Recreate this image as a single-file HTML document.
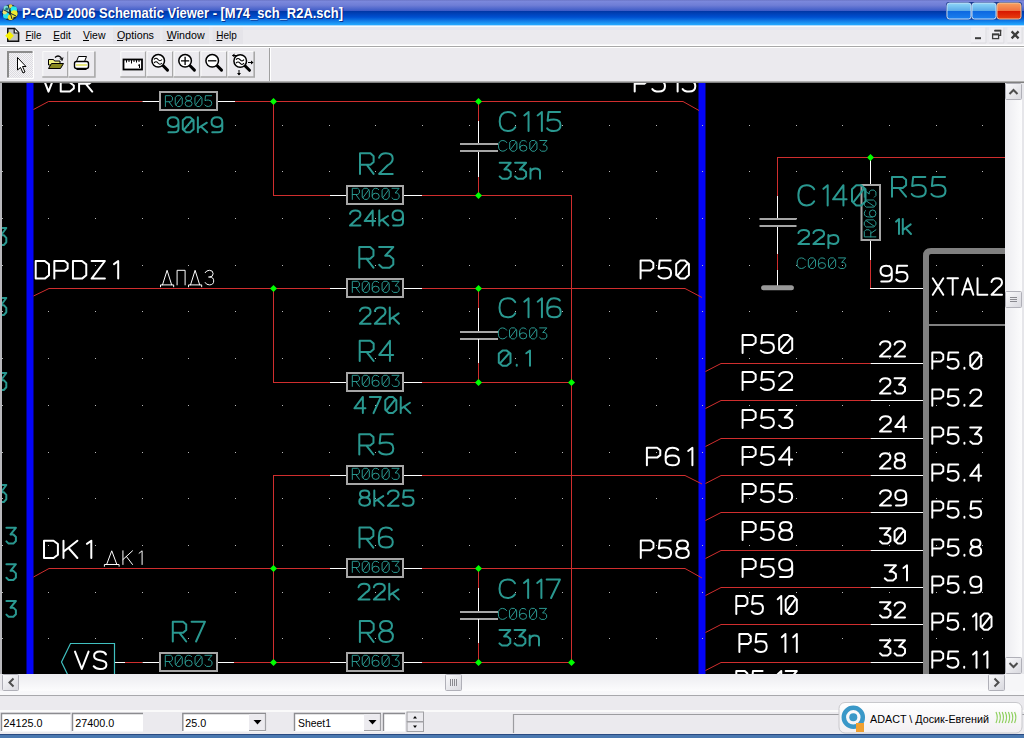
<!DOCTYPE html>
<html><head><meta charset="utf-8"><title>P-CAD 2006 Schematic Viewer</title>
<style>
html,body{margin:0;padding:0;width:1024px;height:738px;overflow:hidden;background:#ebeaee;}
body{position:relative;font-family:"Liberation Sans",sans-serif;}
.abs{position:absolute;}
svg{position:absolute;left:0;top:0;}
</style></head><body>
<svg width="1024" height="738" viewBox="0 0 1024 738"><defs>
<linearGradient id="tb" x1="0" y1="0" x2="0" y2="1">
 <stop offset="0" stop-color="#6a74c4"/>
 <stop offset="0.05" stop-color="#7b88dc"/>
 <stop offset="0.2" stop-color="#6f7ed6"/>
 <stop offset="0.42" stop-color="#3c5ac6"/>
 <stop offset="0.44" stop-color="#0038a8"/>
 <stop offset="0.66" stop-color="#0050d0"/>
 <stop offset="0.96" stop-color="#22a8ff"/>
 <stop offset="1" stop-color="#40b8ff"/>
</linearGradient>
<linearGradient id="bb" x1="0" y1="0" x2="0" y2="1">
 <stop offset="0" stop-color="#90d8f8"/>
 <stop offset="0.5" stop-color="#58a8e8"/>
 <stop offset="0.52" stop-color="#0e68e0"/>
 <stop offset="1" stop-color="#1a80f0"/>
</linearGradient>
<linearGradient id="rb" x1="0" y1="0" x2="0" y2="1">
 <stop offset="0" stop-color="#f8a060"/>
 <stop offset="0.5" stop-color="#f07040"/>
 <stop offset="0.52" stop-color="#d81800"/>
 <stop offset="1" stop-color="#e84010"/>
</linearGradient>
<linearGradient id="pill" x1="0" y1="0" x2="0" y2="1">
 <stop offset="0" stop-color="#ffffff"/>
 <stop offset="1" stop-color="#f2eff2"/>
</linearGradient>
<pattern id="dith" width="2" height="2" patternUnits="userSpaceOnUse">
 <rect width="2" height="2" fill="#f4f3f6"/><rect width="1" height="1" fill="#dcdbe0"/><rect x="1" y="1" width="1" height="1" fill="#dcdbe0"/>
</pattern>
<linearGradient id="trk" x1="0" y1="0" x2="0" y2="1"><stop offset="0" stop-color="#ececf0"/><stop offset="1" stop-color="#fcfcfd"/></linearGradient>
<linearGradient id="trkv" x1="0" y1="0" x2="1" y2="0"><stop offset="0" stop-color="#ececf0"/><stop offset="1" stop-color="#fcfcfd"/></linearGradient>
<linearGradient id="sbg" x1="0" y1="0" x2="1" y2="1"><stop offset="0" stop-color="#fafafc"/><stop offset="1" stop-color="#d8d8de"/></linearGradient>
<clipPath id="cv"><rect x="2" y="83" width="1003" height="591"/></clipPath>
</defs>
<rect x="0" y="0" width="1024" height="26" fill="url(#tb)"/>
<rect x="0" y="25" width="1024" height="1" fill="#a8d8ff"/>
<g>
<circle cx="10" cy="12.5" r="8" fill="#1a2a38"/>
<circle cx="6.8" cy="9" r="3.4" fill="#7ad8d8"/>
<circle cx="6.8" cy="9" r="1.6" fill="#207878"/>
<circle cx="10.5" cy="6.2" r="2" fill="#e8d040"/>
<circle cx="13.8" cy="9.4" r="3.2" fill="#28e8f0"/>
<circle cx="14.2" cy="13.6" r="3.4" fill="#f0ea30"/>
<circle cx="6.2" cy="15.6" r="3.2" fill="#28e0f0"/>
<circle cx="10.6" cy="17.2" r="2.8" fill="#f0e030"/>
<circle cx="4.8" cy="12.2" r="2.2" fill="#e8e070"/>
<path d="M4,10 L16,16 M8,5 L12,19" stroke="#1a2a38" stroke-width="1"/>
</g>
<text x="23" y="18.8" font-family="Liberation Sans" font-weight="bold" font-size="14.6" fill="#0a1870" fill-opacity="0.75" textLength="321" lengthAdjust="spacingAndGlyphs">P-CAD 2006 Schematic Viewer - [M74_sch_R2A.sch]</text>
<text x="22" y="17.8" font-family="Liberation Sans" font-weight="bold" font-size="14.6" fill="#ffffff" textLength="321" lengthAdjust="spacingAndGlyphs">P-CAD 2006 Schematic Viewer - [M74_sch_R2A.sch]</text>
<rect x="946" y="2" width="76" height="17.5" rx="3" fill="#1c3c90"/>
<rect x="947" y="3" width="24" height="16" rx="2.5" fill="url(#bb)" stroke="#c8e0f8" stroke-width="1"/>
<rect x="972" y="3" width="24" height="16" rx="2.5" fill="url(#bb)" stroke="#c8e0f8" stroke-width="1"/>
<rect x="997" y="3" width="24" height="16" rx="2.5" fill="url(#rb)" stroke="#f0c8a0" stroke-width="1"/>
<rect x="0" y="26" width="1024" height="20" fill="#ebeaee"/>
<rect x="0" y="26" width="1024" height="1" fill="#f4f8fc"/>
<rect x="0" y="27" width="1024" height="3" fill="#e4e6f0"/>
<rect x="0" y="44" width="1024" height="1" fill="#f6f6f8"/>
<rect x="0" y="45" width="1024" height="1" fill="#ffffff"/>
<rect x="0" y="46" width="1024" height="1" fill="#a8a8a8"/>
<rect x="0" y="47" width="1024" height="1" fill="#ffffff"/>
<g>
<path d="M7.8,28.6 H14.6 L18.6,32.6 V41.2 H7.8 Z" fill="#c4c4c4" stroke="#101010" stroke-width="1.5"/>
<path d="M14.2,28.6 V33 H18.6" fill="#f0f0f0" stroke="#101010" stroke-width="1.2"/>
<path d="M5.2,35.8 L9.5,31.4 L13.8,35.8 L9.5,40.2 Z" fill="#f8f000"/>
</g>
<rect x="113.0" y="27" width="47.0" height="17" fill="#e5e4e9"/>
<rect x="162.5" y="27" width="46.5" height="17" fill="#e5e4e9"/>
<rect x="212.5" y="27" width="30.5" height="17" fill="#e5e4e9"/>
<text x="25.6" y="39" font-family="Liberation Sans" font-size="11" fill="#000" textLength="15.9" lengthAdjust="spacingAndGlyphs">File</text>
<rect x="25.6" y="40" width="6" height="1" fill="#000"/>
<text x="53.2" y="39" font-family="Liberation Sans" font-size="11" fill="#000" textLength="17.6" lengthAdjust="spacingAndGlyphs">Edit</text>
<rect x="53.2" y="40" width="6" height="1" fill="#000"/>
<text x="83.0" y="39" font-family="Liberation Sans" font-size="11" fill="#000" textLength="22.5" lengthAdjust="spacingAndGlyphs">View</text>
<rect x="83.0" y="40" width="6" height="1" fill="#000"/>
<text x="117.0" y="39" font-family="Liberation Sans" font-size="11" fill="#000" textLength="37.0" lengthAdjust="spacingAndGlyphs">Options</text>
<rect x="117.0" y="40" width="6" height="1" fill="#000"/>
<text x="166.7" y="39" font-family="Liberation Sans" font-size="11" fill="#000" textLength="37.9" lengthAdjust="spacingAndGlyphs">Window</text>
<rect x="166.7" y="40" width="6" height="1" fill="#000"/>
<text x="216.3" y="39" font-family="Liberation Sans" font-size="11" fill="#000" textLength="20.5" lengthAdjust="spacingAndGlyphs">Help</text>
<rect x="216.3" y="40" width="6" height="1" fill="#000"/>
<rect x="971.0" y="27.5" width="15.5" height="15.8" fill="#efeef2"/>
<path d="M971.0,43 H986.0 V27.5" fill="none" stroke="#dcdce0" stroke-width="1"/>
<rect x="989.2" y="27.5" width="15.2" height="15.8" fill="#efeef2"/>
<path d="M989.2,43 H1003.9 V27.5" fill="none" stroke="#dcdce0" stroke-width="1"/>
<rect x="1007.4" y="27.5" width="15.2" height="15.8" fill="#efeef2"/>
<path d="M1007.4,43 H1022.1 V27.5" fill="none" stroke="#dcdce0" stroke-width="1"/>
<rect x="975" y="37.2" width="6" height="2" fill="#3c3c3c"/>
<rect x="992.6" y="34.2" width="6" height="4.4" fill="none" stroke="#3c3c3c" stroke-width="1.3"/>
<rect x="992" y="33.6" width="7.2" height="1.8" fill="#3c3c3c"/>
<path d="M994.8,30.5 H1000.6 V35.4 H999" fill="none" stroke="#3c3c3c" stroke-width="1.3"/>
<rect x="994.2" y="29.9" width="7" height="1.6" fill="#3c3c3c"/>
<path d="M1011.6,31.4 L1018.6,38.4 M1018.6,31.4 L1011.6,38.4" stroke="#3c3c3c" stroke-width="2.3"/>
<rect x="0" y="48" width="1024" height="34" fill="#ebeaee"/>
<rect x="0" y="81" width="1024" height="1" fill="#b0b0b0"/>
<rect x="0" y="82" width="1024" height="1" fill="#808080"/>
<rect x="7" y="51" width="26.5" height="26.5" fill="url(#dith)"/>
<path d="M8,77.5 V52 H32.5" fill="none" stroke="#8c8c8c" stroke-width="2"/>
<path d="M7,78.5 H33.5 V51" fill="none" stroke="#ffffff" stroke-width="1"/>
<path d="M17.5,57.5 V70 L20.5,67.5 L23,73 L25,72 L22.5,66.5 L26,66.5 Z" fill="#fff" stroke="#000" stroke-width="1"/>
<rect x="42.3" y="51.5" width="26.3" height="26" fill="#ecebef"/>
<path d="M42.8,77.5 V51.5 H68.1" fill="none" stroke="#fafafa" stroke-width="1"/>
<path d="M67.8,51.5 V77 H42.3" fill="none" stroke="#a8a8a8" stroke-width="1.6"/>
<rect x="68.6" y="51.5" width="27.1" height="26" fill="#ecebef"/>
<path d="M69.1,77.5 V51.5 H95.2" fill="none" stroke="#fafafa" stroke-width="1"/>
<path d="M94.9,51.5 V77 H68.6" fill="none" stroke="#a8a8a8" stroke-width="1.6"/>
<rect x="120.3" y="51.5" width="26.2" height="26" fill="#ecebef"/>
<path d="M120.8,77.5 V51.5 H146.0" fill="none" stroke="#fafafa" stroke-width="1"/>
<path d="M145.7,51.5 V77 H120.3" fill="none" stroke="#a8a8a8" stroke-width="1.6"/>
<rect x="146.5" y="51.5" width="27.1" height="26" fill="#ecebef"/>
<path d="M147.0,77.5 V51.5 H173.1" fill="none" stroke="#fafafa" stroke-width="1"/>
<path d="M172.8,51.5 V77 H146.5" fill="none" stroke="#a8a8a8" stroke-width="1.6"/>
<rect x="173.6" y="51.5" width="26.9" height="26" fill="#ecebef"/>
<path d="M174.1,77.5 V51.5 H200.0" fill="none" stroke="#fafafa" stroke-width="1"/>
<path d="M199.7,51.5 V77 H173.6" fill="none" stroke="#a8a8a8" stroke-width="1.6"/>
<rect x="200.5" y="51.5" width="27.1" height="26" fill="#ecebef"/>
<path d="M201.0,77.5 V51.5 H227.1" fill="none" stroke="#fafafa" stroke-width="1"/>
<path d="M226.8,51.5 V77 H200.5" fill="none" stroke="#a8a8a8" stroke-width="1.6"/>
<rect x="227.6" y="51.5" width="27.4" height="26" fill="#ecebef"/>
<path d="M228.1,77.5 V51.5 H254.5" fill="none" stroke="#fafafa" stroke-width="1"/>
<path d="M254.2,51.5 V77 H227.6" fill="none" stroke="#a8a8a8" stroke-width="1.6"/>
<path d="M48.5,59.5 h5 l1,1.5 h5.5 v4 h-11.5 z" fill="#f0f080" stroke="#000" stroke-width="1"/>
<path d="M48.5,68.5 L51.5,63.5 H63.5 L60.5,68.5 Z" fill="#8a8a20" stroke="#000" stroke-width="1"/>
<path d="M55,57.5 q3,-3 6,0 l0.5,2" fill="none" stroke="#000" stroke-width="1.2"/>
<path d="M60,58.5 l2,2 l1,-3" fill="none" stroke="#000" stroke-width="1"/>
<path d="M78.5,56.5 h8 l-2,5 h-8 z" fill="#fff" stroke="#000" stroke-width="1"/>
<rect x="74.5" y="61.5" width="14" height="7" rx="2" fill="#fff" stroke="#000" stroke-width="1.4"/>
<rect x="76" y="64" width="11" height="2" fill="#e8e880"/>
<rect x="76.5" y="68.5" width="10" height="1.5" fill="#000"/>
<rect x="123.5" y="59.5" width="18.5" height="10" fill="#fff" stroke="#000" stroke-width="1.8"/>
<path d="M126.5,60 v2.5 M129,60 v2 M131.5,60 v3.5 M134,60 v2 M136.5,60 v2.5 M139,60 v2" stroke="#000" stroke-width="1"/>
<path d="M139.5,68 v-3.5 l-1.5,1" fill="none" stroke="#000" stroke-width="1"/>
<path d="M162.7,65.3 l4.8,4.8" stroke="#000" stroke-width="3" stroke-linecap="round"/>
<circle cx="158.2" cy="60.8" r="6.3" fill="#fff" stroke="#000" stroke-width="1.5"/>
<path d="M154,59.5 q2,-2.5 4,0 t4,0 M154,63 q2,-2.5 4,0 t4,0" fill="none" stroke="#000" stroke-width="1.1"/>
<path d="M189.6,65.3 l4.8,4.8" stroke="#000" stroke-width="3" stroke-linecap="round"/>
<circle cx="185.1" cy="60.8" r="6.3" fill="#fff" stroke="#000" stroke-width="1.5"/>
<path d="M181,60.8 h8.2 M185.1,56.7 v8.2" stroke="#000" stroke-width="1.3"/>
<path d="M216.7,65.3 l4.8,4.8" stroke="#000" stroke-width="3" stroke-linecap="round"/>
<circle cx="212.2" cy="60.8" r="6.3" fill="#fff" stroke="#000" stroke-width="1.5"/>
<path d="M208,60.8 h8.4" stroke="#000" stroke-width="1.3"/>
<path d="M244.7,65.5 l4.8,4.8" stroke="#000" stroke-width="3" stroke-linecap="round"/>
<circle cx="240.2" cy="61.0" r="6.3" fill="#fff" stroke="#000" stroke-width="1.5"/>
<path d="M236,59.7 q2,-2.5 4,0 t4,0 M236,63.2 q2,-2.5 4,0 t4,0" fill="none" stroke="#000" stroke-width="1.1"/><path d="M232.5,55.5 h5 M248,62.5 h5 M239,70 v5" stroke="#000" stroke-width="1"/><path d="M232,55.5 l2.5,-2 v4 z M253.5,62.5 l-2.5,-2 v4 z M239,75.5 l-2,-2.5 h4 z" fill="#000"/>
<rect x="269" y="48" width="1" height="33" fill="#a0a0a0"/>
<rect x="270" y="48" width="1" height="33" fill="#ffffff"/>
<rect x="0" y="83" width="2" height="591" fill="#b8b8bc"/>
<rect x="1005" y="83" width="19" height="591" fill="#f3f3f5"/>
<rect x="2" y="83" width="1003" height="591" fill="#000"/>
<g clip-path="url(#cv)"><rect x="26.5" y="83" width="7" height="591" fill="#0404f6"/>
<rect x="698.5" y="83" width="7" height="591" fill="#0404f6"/>
<rect x="2" y="125" width="1" height="1" fill="#b8b8b8"/>
<rect x="2" y="171" width="1" height="1" fill="#b8b8b8"/>
<rect x="2" y="218" width="1" height="1" fill="#b8b8b8"/>
<rect x="2" y="265" width="1" height="1" fill="#b8b8b8"/>
<rect x="2" y="311" width="1" height="1" fill="#b8b8b8"/>
<rect x="2" y="358" width="1" height="1" fill="#b8b8b8"/>
<rect x="2" y="405" width="1" height="1" fill="#b8b8b8"/>
<rect x="2" y="452" width="1" height="1" fill="#b8b8b8"/>
<rect x="2" y="498" width="1" height="1" fill="#b8b8b8"/>
<rect x="2" y="545" width="1" height="1" fill="#b8b8b8"/>
<rect x="2" y="592" width="1" height="1" fill="#b8b8b8"/>
<rect x="2" y="638" width="1" height="1" fill="#b8b8b8"/>
<rect x="48" y="125" width="1" height="1" fill="#b8b8b8"/>
<rect x="48" y="171" width="1" height="1" fill="#b8b8b8"/>
<rect x="48" y="218" width="1" height="1" fill="#b8b8b8"/>
<rect x="48" y="265" width="1" height="1" fill="#b8b8b8"/>
<rect x="48" y="311" width="1" height="1" fill="#b8b8b8"/>
<rect x="48" y="358" width="1" height="1" fill="#b8b8b8"/>
<rect x="48" y="405" width="1" height="1" fill="#b8b8b8"/>
<rect x="48" y="452" width="1" height="1" fill="#b8b8b8"/>
<rect x="48" y="498" width="1" height="1" fill="#b8b8b8"/>
<rect x="48" y="545" width="1" height="1" fill="#b8b8b8"/>
<rect x="48" y="592" width="1" height="1" fill="#b8b8b8"/>
<rect x="48" y="638" width="1" height="1" fill="#b8b8b8"/>
<rect x="95" y="125" width="1" height="1" fill="#b8b8b8"/>
<rect x="95" y="171" width="1" height="1" fill="#b8b8b8"/>
<rect x="95" y="218" width="1" height="1" fill="#b8b8b8"/>
<rect x="95" y="265" width="1" height="1" fill="#b8b8b8"/>
<rect x="95" y="311" width="1" height="1" fill="#b8b8b8"/>
<rect x="95" y="358" width="1" height="1" fill="#b8b8b8"/>
<rect x="95" y="405" width="1" height="1" fill="#b8b8b8"/>
<rect x="95" y="452" width="1" height="1" fill="#b8b8b8"/>
<rect x="95" y="498" width="1" height="1" fill="#b8b8b8"/>
<rect x="95" y="545" width="1" height="1" fill="#b8b8b8"/>
<rect x="95" y="592" width="1" height="1" fill="#b8b8b8"/>
<rect x="95" y="638" width="1" height="1" fill="#b8b8b8"/>
<rect x="142" y="125" width="1" height="1" fill="#b8b8b8"/>
<rect x="142" y="171" width="1" height="1" fill="#b8b8b8"/>
<rect x="142" y="218" width="1" height="1" fill="#b8b8b8"/>
<rect x="142" y="265" width="1" height="1" fill="#b8b8b8"/>
<rect x="142" y="311" width="1" height="1" fill="#b8b8b8"/>
<rect x="142" y="358" width="1" height="1" fill="#b8b8b8"/>
<rect x="142" y="405" width="1" height="1" fill="#b8b8b8"/>
<rect x="142" y="452" width="1" height="1" fill="#b8b8b8"/>
<rect x="142" y="498" width="1" height="1" fill="#b8b8b8"/>
<rect x="142" y="545" width="1" height="1" fill="#b8b8b8"/>
<rect x="142" y="592" width="1" height="1" fill="#b8b8b8"/>
<rect x="142" y="638" width="1" height="1" fill="#b8b8b8"/>
<rect x="188" y="125" width="1" height="1" fill="#b8b8b8"/>
<rect x="188" y="171" width="1" height="1" fill="#b8b8b8"/>
<rect x="188" y="218" width="1" height="1" fill="#b8b8b8"/>
<rect x="188" y="265" width="1" height="1" fill="#b8b8b8"/>
<rect x="188" y="311" width="1" height="1" fill="#b8b8b8"/>
<rect x="188" y="358" width="1" height="1" fill="#b8b8b8"/>
<rect x="188" y="405" width="1" height="1" fill="#b8b8b8"/>
<rect x="188" y="452" width="1" height="1" fill="#b8b8b8"/>
<rect x="188" y="498" width="1" height="1" fill="#b8b8b8"/>
<rect x="188" y="545" width="1" height="1" fill="#b8b8b8"/>
<rect x="188" y="592" width="1" height="1" fill="#b8b8b8"/>
<rect x="188" y="638" width="1" height="1" fill="#b8b8b8"/>
<rect x="235" y="125" width="1" height="1" fill="#b8b8b8"/>
<rect x="235" y="171" width="1" height="1" fill="#b8b8b8"/>
<rect x="235" y="218" width="1" height="1" fill="#b8b8b8"/>
<rect x="235" y="265" width="1" height="1" fill="#b8b8b8"/>
<rect x="235" y="311" width="1" height="1" fill="#b8b8b8"/>
<rect x="235" y="358" width="1" height="1" fill="#b8b8b8"/>
<rect x="235" y="405" width="1" height="1" fill="#b8b8b8"/>
<rect x="235" y="452" width="1" height="1" fill="#b8b8b8"/>
<rect x="235" y="498" width="1" height="1" fill="#b8b8b8"/>
<rect x="235" y="545" width="1" height="1" fill="#b8b8b8"/>
<rect x="235" y="592" width="1" height="1" fill="#b8b8b8"/>
<rect x="235" y="638" width="1" height="1" fill="#b8b8b8"/>
<rect x="282" y="125" width="1" height="1" fill="#b8b8b8"/>
<rect x="282" y="171" width="1" height="1" fill="#b8b8b8"/>
<rect x="282" y="218" width="1" height="1" fill="#b8b8b8"/>
<rect x="282" y="265" width="1" height="1" fill="#b8b8b8"/>
<rect x="282" y="311" width="1" height="1" fill="#b8b8b8"/>
<rect x="282" y="358" width="1" height="1" fill="#b8b8b8"/>
<rect x="282" y="405" width="1" height="1" fill="#b8b8b8"/>
<rect x="282" y="452" width="1" height="1" fill="#b8b8b8"/>
<rect x="282" y="498" width="1" height="1" fill="#b8b8b8"/>
<rect x="282" y="545" width="1" height="1" fill="#b8b8b8"/>
<rect x="282" y="592" width="1" height="1" fill="#b8b8b8"/>
<rect x="282" y="638" width="1" height="1" fill="#b8b8b8"/>
<rect x="329" y="125" width="1" height="1" fill="#b8b8b8"/>
<rect x="329" y="171" width="1" height="1" fill="#b8b8b8"/>
<rect x="329" y="218" width="1" height="1" fill="#b8b8b8"/>
<rect x="329" y="265" width="1" height="1" fill="#b8b8b8"/>
<rect x="329" y="311" width="1" height="1" fill="#b8b8b8"/>
<rect x="329" y="358" width="1" height="1" fill="#b8b8b8"/>
<rect x="329" y="405" width="1" height="1" fill="#b8b8b8"/>
<rect x="329" y="452" width="1" height="1" fill="#b8b8b8"/>
<rect x="329" y="498" width="1" height="1" fill="#b8b8b8"/>
<rect x="329" y="545" width="1" height="1" fill="#b8b8b8"/>
<rect x="329" y="592" width="1" height="1" fill="#b8b8b8"/>
<rect x="329" y="638" width="1" height="1" fill="#b8b8b8"/>
<rect x="375" y="125" width="1" height="1" fill="#b8b8b8"/>
<rect x="375" y="171" width="1" height="1" fill="#b8b8b8"/>
<rect x="375" y="218" width="1" height="1" fill="#b8b8b8"/>
<rect x="375" y="265" width="1" height="1" fill="#b8b8b8"/>
<rect x="375" y="311" width="1" height="1" fill="#b8b8b8"/>
<rect x="375" y="358" width="1" height="1" fill="#b8b8b8"/>
<rect x="375" y="405" width="1" height="1" fill="#b8b8b8"/>
<rect x="375" y="452" width="1" height="1" fill="#b8b8b8"/>
<rect x="375" y="498" width="1" height="1" fill="#b8b8b8"/>
<rect x="375" y="545" width="1" height="1" fill="#b8b8b8"/>
<rect x="375" y="592" width="1" height="1" fill="#b8b8b8"/>
<rect x="375" y="638" width="1" height="1" fill="#b8b8b8"/>
<rect x="422" y="125" width="1" height="1" fill="#b8b8b8"/>
<rect x="422" y="171" width="1" height="1" fill="#b8b8b8"/>
<rect x="422" y="218" width="1" height="1" fill="#b8b8b8"/>
<rect x="422" y="265" width="1" height="1" fill="#b8b8b8"/>
<rect x="422" y="311" width="1" height="1" fill="#b8b8b8"/>
<rect x="422" y="358" width="1" height="1" fill="#b8b8b8"/>
<rect x="422" y="405" width="1" height="1" fill="#b8b8b8"/>
<rect x="422" y="452" width="1" height="1" fill="#b8b8b8"/>
<rect x="422" y="498" width="1" height="1" fill="#b8b8b8"/>
<rect x="422" y="545" width="1" height="1" fill="#b8b8b8"/>
<rect x="422" y="592" width="1" height="1" fill="#b8b8b8"/>
<rect x="422" y="638" width="1" height="1" fill="#b8b8b8"/>
<rect x="469" y="125" width="1" height="1" fill="#b8b8b8"/>
<rect x="469" y="171" width="1" height="1" fill="#b8b8b8"/>
<rect x="469" y="218" width="1" height="1" fill="#b8b8b8"/>
<rect x="469" y="265" width="1" height="1" fill="#b8b8b8"/>
<rect x="469" y="311" width="1" height="1" fill="#b8b8b8"/>
<rect x="469" y="358" width="1" height="1" fill="#b8b8b8"/>
<rect x="469" y="405" width="1" height="1" fill="#b8b8b8"/>
<rect x="469" y="452" width="1" height="1" fill="#b8b8b8"/>
<rect x="469" y="498" width="1" height="1" fill="#b8b8b8"/>
<rect x="469" y="545" width="1" height="1" fill="#b8b8b8"/>
<rect x="469" y="592" width="1" height="1" fill="#b8b8b8"/>
<rect x="469" y="638" width="1" height="1" fill="#b8b8b8"/>
<rect x="515" y="125" width="1" height="1" fill="#b8b8b8"/>
<rect x="515" y="171" width="1" height="1" fill="#b8b8b8"/>
<rect x="515" y="218" width="1" height="1" fill="#b8b8b8"/>
<rect x="515" y="265" width="1" height="1" fill="#b8b8b8"/>
<rect x="515" y="311" width="1" height="1" fill="#b8b8b8"/>
<rect x="515" y="358" width="1" height="1" fill="#b8b8b8"/>
<rect x="515" y="405" width="1" height="1" fill="#b8b8b8"/>
<rect x="515" y="452" width="1" height="1" fill="#b8b8b8"/>
<rect x="515" y="498" width="1" height="1" fill="#b8b8b8"/>
<rect x="515" y="545" width="1" height="1" fill="#b8b8b8"/>
<rect x="515" y="592" width="1" height="1" fill="#b8b8b8"/>
<rect x="515" y="638" width="1" height="1" fill="#b8b8b8"/>
<rect x="562" y="125" width="1" height="1" fill="#b8b8b8"/>
<rect x="562" y="171" width="1" height="1" fill="#b8b8b8"/>
<rect x="562" y="218" width="1" height="1" fill="#b8b8b8"/>
<rect x="562" y="265" width="1" height="1" fill="#b8b8b8"/>
<rect x="562" y="311" width="1" height="1" fill="#b8b8b8"/>
<rect x="562" y="358" width="1" height="1" fill="#b8b8b8"/>
<rect x="562" y="405" width="1" height="1" fill="#b8b8b8"/>
<rect x="562" y="452" width="1" height="1" fill="#b8b8b8"/>
<rect x="562" y="498" width="1" height="1" fill="#b8b8b8"/>
<rect x="562" y="545" width="1" height="1" fill="#b8b8b8"/>
<rect x="562" y="592" width="1" height="1" fill="#b8b8b8"/>
<rect x="562" y="638" width="1" height="1" fill="#b8b8b8"/>
<rect x="609" y="125" width="1" height="1" fill="#b8b8b8"/>
<rect x="609" y="171" width="1" height="1" fill="#b8b8b8"/>
<rect x="609" y="218" width="1" height="1" fill="#b8b8b8"/>
<rect x="609" y="265" width="1" height="1" fill="#b8b8b8"/>
<rect x="609" y="311" width="1" height="1" fill="#b8b8b8"/>
<rect x="609" y="358" width="1" height="1" fill="#b8b8b8"/>
<rect x="609" y="405" width="1" height="1" fill="#b8b8b8"/>
<rect x="609" y="452" width="1" height="1" fill="#b8b8b8"/>
<rect x="609" y="498" width="1" height="1" fill="#b8b8b8"/>
<rect x="609" y="545" width="1" height="1" fill="#b8b8b8"/>
<rect x="609" y="592" width="1" height="1" fill="#b8b8b8"/>
<rect x="609" y="638" width="1" height="1" fill="#b8b8b8"/>
<rect x="656" y="125" width="1" height="1" fill="#b8b8b8"/>
<rect x="656" y="171" width="1" height="1" fill="#b8b8b8"/>
<rect x="656" y="218" width="1" height="1" fill="#b8b8b8"/>
<rect x="656" y="265" width="1" height="1" fill="#b8b8b8"/>
<rect x="656" y="311" width="1" height="1" fill="#b8b8b8"/>
<rect x="656" y="358" width="1" height="1" fill="#b8b8b8"/>
<rect x="656" y="405" width="1" height="1" fill="#b8b8b8"/>
<rect x="656" y="452" width="1" height="1" fill="#b8b8b8"/>
<rect x="656" y="498" width="1" height="1" fill="#b8b8b8"/>
<rect x="656" y="545" width="1" height="1" fill="#b8b8b8"/>
<rect x="656" y="592" width="1" height="1" fill="#b8b8b8"/>
<rect x="656" y="638" width="1" height="1" fill="#b8b8b8"/>
<rect x="702" y="125" width="1" height="1" fill="#b8b8b8"/>
<rect x="702" y="171" width="1" height="1" fill="#b8b8b8"/>
<rect x="702" y="218" width="1" height="1" fill="#b8b8b8"/>
<rect x="702" y="265" width="1" height="1" fill="#b8b8b8"/>
<rect x="702" y="311" width="1" height="1" fill="#b8b8b8"/>
<rect x="702" y="358" width="1" height="1" fill="#b8b8b8"/>
<rect x="702" y="405" width="1" height="1" fill="#b8b8b8"/>
<rect x="702" y="452" width="1" height="1" fill="#b8b8b8"/>
<rect x="702" y="498" width="1" height="1" fill="#b8b8b8"/>
<rect x="702" y="545" width="1" height="1" fill="#b8b8b8"/>
<rect x="702" y="592" width="1" height="1" fill="#b8b8b8"/>
<rect x="702" y="638" width="1" height="1" fill="#b8b8b8"/>
<rect x="749" y="125" width="1" height="1" fill="#b8b8b8"/>
<rect x="749" y="171" width="1" height="1" fill="#b8b8b8"/>
<rect x="749" y="218" width="1" height="1" fill="#b8b8b8"/>
<rect x="749" y="265" width="1" height="1" fill="#b8b8b8"/>
<rect x="749" y="311" width="1" height="1" fill="#b8b8b8"/>
<rect x="749" y="358" width="1" height="1" fill="#b8b8b8"/>
<rect x="749" y="405" width="1" height="1" fill="#b8b8b8"/>
<rect x="749" y="452" width="1" height="1" fill="#b8b8b8"/>
<rect x="749" y="498" width="1" height="1" fill="#b8b8b8"/>
<rect x="749" y="545" width="1" height="1" fill="#b8b8b8"/>
<rect x="749" y="592" width="1" height="1" fill="#b8b8b8"/>
<rect x="749" y="638" width="1" height="1" fill="#b8b8b8"/>
<rect x="796" y="125" width="1" height="1" fill="#b8b8b8"/>
<rect x="796" y="171" width="1" height="1" fill="#b8b8b8"/>
<rect x="796" y="218" width="1" height="1" fill="#b8b8b8"/>
<rect x="796" y="265" width="1" height="1" fill="#b8b8b8"/>
<rect x="796" y="311" width="1" height="1" fill="#b8b8b8"/>
<rect x="796" y="358" width="1" height="1" fill="#b8b8b8"/>
<rect x="796" y="405" width="1" height="1" fill="#b8b8b8"/>
<rect x="796" y="452" width="1" height="1" fill="#b8b8b8"/>
<rect x="796" y="498" width="1" height="1" fill="#b8b8b8"/>
<rect x="796" y="545" width="1" height="1" fill="#b8b8b8"/>
<rect x="796" y="592" width="1" height="1" fill="#b8b8b8"/>
<rect x="796" y="638" width="1" height="1" fill="#b8b8b8"/>
<rect x="842" y="125" width="1" height="1" fill="#b8b8b8"/>
<rect x="842" y="171" width="1" height="1" fill="#b8b8b8"/>
<rect x="842" y="218" width="1" height="1" fill="#b8b8b8"/>
<rect x="842" y="265" width="1" height="1" fill="#b8b8b8"/>
<rect x="842" y="311" width="1" height="1" fill="#b8b8b8"/>
<rect x="842" y="358" width="1" height="1" fill="#b8b8b8"/>
<rect x="842" y="405" width="1" height="1" fill="#b8b8b8"/>
<rect x="842" y="452" width="1" height="1" fill="#b8b8b8"/>
<rect x="842" y="498" width="1" height="1" fill="#b8b8b8"/>
<rect x="842" y="545" width="1" height="1" fill="#b8b8b8"/>
<rect x="842" y="592" width="1" height="1" fill="#b8b8b8"/>
<rect x="842" y="638" width="1" height="1" fill="#b8b8b8"/>
<rect x="889" y="125" width="1" height="1" fill="#b8b8b8"/>
<rect x="889" y="171" width="1" height="1" fill="#b8b8b8"/>
<rect x="889" y="218" width="1" height="1" fill="#b8b8b8"/>
<rect x="889" y="265" width="1" height="1" fill="#b8b8b8"/>
<rect x="889" y="311" width="1" height="1" fill="#b8b8b8"/>
<rect x="889" y="358" width="1" height="1" fill="#b8b8b8"/>
<rect x="889" y="405" width="1" height="1" fill="#b8b8b8"/>
<rect x="889" y="452" width="1" height="1" fill="#b8b8b8"/>
<rect x="889" y="498" width="1" height="1" fill="#b8b8b8"/>
<rect x="889" y="545" width="1" height="1" fill="#b8b8b8"/>
<rect x="889" y="592" width="1" height="1" fill="#b8b8b8"/>
<rect x="889" y="638" width="1" height="1" fill="#b8b8b8"/>
<rect x="936" y="125" width="1" height="1" fill="#b8b8b8"/>
<rect x="936" y="171" width="1" height="1" fill="#b8b8b8"/>
<rect x="936" y="218" width="1" height="1" fill="#b8b8b8"/>
<rect x="936" y="265" width="1" height="1" fill="#b8b8b8"/>
<rect x="936" y="311" width="1" height="1" fill="#b8b8b8"/>
<rect x="936" y="358" width="1" height="1" fill="#b8b8b8"/>
<rect x="936" y="405" width="1" height="1" fill="#b8b8b8"/>
<rect x="936" y="452" width="1" height="1" fill="#b8b8b8"/>
<rect x="936" y="498" width="1" height="1" fill="#b8b8b8"/>
<rect x="936" y="545" width="1" height="1" fill="#b8b8b8"/>
<rect x="936" y="592" width="1" height="1" fill="#b8b8b8"/>
<rect x="936" y="638" width="1" height="1" fill="#b8b8b8"/>
<rect x="982" y="125" width="1" height="1" fill="#b8b8b8"/>
<rect x="982" y="171" width="1" height="1" fill="#b8b8b8"/>
<rect x="982" y="218" width="1" height="1" fill="#b8b8b8"/>
<rect x="982" y="265" width="1" height="1" fill="#b8b8b8"/>
<rect x="982" y="311" width="1" height="1" fill="#b8b8b8"/>
<rect x="982" y="358" width="1" height="1" fill="#b8b8b8"/>
<rect x="982" y="405" width="1" height="1" fill="#b8b8b8"/>
<rect x="982" y="452" width="1" height="1" fill="#b8b8b8"/>
<rect x="982" y="498" width="1" height="1" fill="#b8b8b8"/>
<rect x="982" y="545" width="1" height="1" fill="#b8b8b8"/>
<rect x="982" y="592" width="1" height="1" fill="#b8b8b8"/>
<rect x="982" y="638" width="1" height="1" fill="#b8b8b8"/>
<line x1="33.50" y1="109.50" x2="48.50" y2="101.50" stroke="#d02e2e" stroke-width="1"/>
<rect x="48.50" y="101" width="94.00" height="1" fill="#d02e2e"/>
<rect x="142.50" y="101" width="16.50" height="1" fill="#ffffff"/>
<rect x="218.00" y="101" width="17.00" height="1" fill="#ffffff"/>
<rect x="160.0" y="92.0" width="57.0" height="18.0" fill="none" stroke="#a6a6a6" stroke-width="2"/>
<rect x="235.00" y="101" width="448.00" height="1" fill="#d02e2e"/>
<line x1="683.00" y1="101.50" x2="699.00" y2="110.50" stroke="#d02e2e" stroke-width="1"/>
<rect x="273" y="101.00" width="1" height="94.00" fill="#d02e2e"/>
<rect x="273.00" y="195" width="57.00" height="1" fill="#d02e2e"/>
<rect x="422.00" y="195" width="149.00" height="1" fill="#d02e2e"/>
<rect x="571" y="195.00" width="1" height="467.00" fill="#d02e2e"/>
<line x1="33.50" y1="296.00" x2="49.00" y2="288.50" stroke="#d02e2e" stroke-width="1"/>
<rect x="49.00" y="288" width="281.00" height="1" fill="#d02e2e"/>
<rect x="422.00" y="288" width="263.00" height="1" fill="#d02e2e"/>
<line x1="685.00" y1="288.50" x2="702.00" y2="297.50" stroke="#d02e2e" stroke-width="1"/>
<rect x="273" y="288.00" width="1" height="94.00" fill="#d02e2e"/>
<rect x="273.00" y="382" width="57.00" height="1" fill="#d02e2e"/>
<rect x="422.00" y="382" width="149.00" height="1" fill="#d02e2e"/>
<rect x="273.00" y="475" width="57.00" height="1" fill="#d02e2e"/>
<rect x="422.00" y="475" width="263.00" height="1" fill="#d02e2e"/>
<line x1="685.00" y1="475.50" x2="702.00" y2="484.00" stroke="#d02e2e" stroke-width="1"/>
<rect x="273" y="475.00" width="1" height="187.00" fill="#d02e2e"/>
<line x1="33.50" y1="577.00" x2="49.00" y2="568.50" stroke="#d02e2e" stroke-width="1"/>
<rect x="49.00" y="568" width="281.00" height="1" fill="#d02e2e"/>
<rect x="422.00" y="568" width="263.00" height="1" fill="#d02e2e"/>
<line x1="685.00" y1="568.50" x2="702.00" y2="578.00" stroke="#d02e2e" stroke-width="1"/>
<rect x="125.00" y="662" width="17.60" height="1" fill="#d02e2e"/>
<rect x="114.00" y="662" width="11.00" height="1" fill="#ffffff"/>
<rect x="234.00" y="662" width="96.00" height="1" fill="#d02e2e"/>
<rect x="422.00" y="662" width="149.00" height="1" fill="#d02e2e"/>
<rect x="330.00" y="195" width="16.00" height="1" fill="#ffffff"/>
<rect x="404.00" y="195" width="18.00" height="1" fill="#ffffff"/>
<rect x="347.0" y="186.0" width="56.0" height="18.0" fill="none" stroke="#a6a6a6" stroke-width="2"/>
<rect x="330.00" y="288" width="16.00" height="1" fill="#ffffff"/>
<rect x="404.00" y="288" width="18.00" height="1" fill="#ffffff"/>
<rect x="347.0" y="279.0" width="56.0" height="18.0" fill="none" stroke="#a6a6a6" stroke-width="2"/>
<rect x="330.00" y="382" width="16.00" height="1" fill="#ffffff"/>
<rect x="404.00" y="382" width="18.00" height="1" fill="#ffffff"/>
<rect x="347.0" y="373.0" width="56.0" height="18.0" fill="none" stroke="#a6a6a6" stroke-width="2"/>
<rect x="330.00" y="475" width="16.00" height="1" fill="#ffffff"/>
<rect x="404.00" y="475" width="18.00" height="1" fill="#ffffff"/>
<rect x="347.0" y="466.0" width="56.0" height="18.0" fill="none" stroke="#a6a6a6" stroke-width="2"/>
<rect x="330.00" y="568" width="16.00" height="1" fill="#ffffff"/>
<rect x="404.00" y="568" width="18.00" height="1" fill="#ffffff"/>
<rect x="347.0" y="559.0" width="56.0" height="18.0" fill="none" stroke="#a6a6a6" stroke-width="2"/>
<rect x="330.00" y="662" width="16.00" height="1" fill="#ffffff"/>
<rect x="404.00" y="662" width="18.00" height="1" fill="#ffffff"/>
<rect x="347.0" y="653.0" width="56.0" height="18.0" fill="none" stroke="#a6a6a6" stroke-width="2"/>
<rect x="142.60" y="662" width="16.40" height="1" fill="#ffffff"/>
<rect x="218.00" y="662" width="16.00" height="1" fill="#ffffff"/>
<rect x="160.0" y="653.0" width="57.0" height="18.0" fill="none" stroke="#a6a6a6" stroke-width="2"/>
<rect x="478" y="101.00" width="1" height="20.00" fill="#d02e2e"/>
<rect x="478" y="121.00" width="1" height="22.00" fill="#ffffff"/>
<rect x="460" y="143" width="38" height="2" fill="#a6a6a6"/>
<rect x="460" y="150" width="38" height="2" fill="#a6a6a6"/>
<rect x="478" y="152.00" width="1" height="25.00" fill="#ffffff"/>
<rect x="478" y="177.00" width="1" height="18.00" fill="#d02e2e"/>
<rect x="478" y="288.00" width="1" height="20.00" fill="#d02e2e"/>
<rect x="478" y="308.00" width="1" height="23.00" fill="#ffffff"/>
<rect x="460" y="331" width="38" height="2" fill="#a6a6a6"/>
<rect x="460" y="338" width="38" height="2" fill="#a6a6a6"/>
<rect x="478" y="339.00" width="1" height="24.00" fill="#ffffff"/>
<rect x="478" y="363.00" width="1" height="19.00" fill="#d02e2e"/>
<rect x="478.00" y="288" width="0.00" height="1" fill="#d02e2e"/>
<rect x="478" y="568.00" width="1" height="20.00" fill="#d02e2e"/>
<rect x="478" y="588.00" width="1" height="23.00" fill="#ffffff"/>
<rect x="460" y="611" width="38" height="2" fill="#a6a6a6"/>
<rect x="460" y="618" width="38" height="2" fill="#a6a6a6"/>
<rect x="478" y="619.00" width="1" height="24.00" fill="#ffffff"/>
<rect x="478" y="643.00" width="1" height="19.00" fill="#d02e2e"/>
<rect x="478.00" y="568" width="0.00" height="1" fill="#d02e2e"/>
<path d="M114.5,643.5 H70.5 L61.5,662 L70.5,680.5 H114.5 Z" fill="none" stroke="#40c0c0" stroke-width="1.2"/>
<rect x="777.00" y="157" width="228.00" height="1" fill="#d02e2e"/>
<rect x="777" y="157.00" width="1" height="39.00" fill="#d02e2e"/>
<rect x="777" y="196.00" width="1" height="22.00" fill="#ffffff"/>
<rect x="759.5" y="218" width="37" height="2" fill="#a6a6a6"/>
<rect x="759.5" y="225" width="37" height="2" fill="#a6a6a6"/>
<rect x="777" y="227.00" width="1" height="27.00" fill="#ffffff"/>
<rect x="777" y="254.00" width="1" height="16.00" fill="#d02e2e"/>
<rect x="777" y="270.00" width="1" height="16.00" fill="#ffffff"/>
<line x1="763.6" y1="287.8" x2="791.4" y2="287.8" stroke="#999999" stroke-width="5" stroke-linecap="round"/>
<rect x="870" y="157.00" width="1" height="27.00" fill="#ffffff"/>
<rect x="861.5" y="185" width="18.5" height="55" fill="none" stroke="#a6a6a6" stroke-width="2"/>
<rect x="870" y="241.00" width="1" height="19.00" fill="#ffffff"/>
<rect x="870" y="260.00" width="1" height="28.00" fill="#d02e2e"/>
<rect x="870.00" y="288" width="53.00" height="1" fill="#ffffff"/>
<path d="M926,674 V256 Q926,251 931,251 H1010" fill="none" stroke="#808080" stroke-width="6"/>
<rect x="929" y="324" width="80" height="2" fill="#808080"/>
<line x1="705.50" y1="371.50" x2="721.00" y2="363.50" stroke="#d02e2e" stroke-width="1"/>
<rect x="721.00" y="363" width="149.60" height="1" fill="#d02e2e"/>
<rect x="870.60" y="363" width="52.40" height="1" fill="#ffffff"/>
<g transform="translate(742.600,335.000) scale(2.1754,1.8000)" fill="none" stroke="#ffffff" stroke-width="2.00" stroke-linecap="round" stroke-linejoin="round"><path vector-effect="non-scaling-stroke" transform="translate(0.00,0)" d="M0,10 V0 H4.6 L6,1.4 V4.2 L4.6,5.6 H0"/><path vector-effect="non-scaling-stroke" transform="translate(8.40,0)" d="M5.8,0 H0.6 L0.2,4.6 Q1.4,4 3,4 Q6,4 6,7 Q6,10 3,10 Q0.8,10 0,8.6"/><path vector-effect="non-scaling-stroke" transform="translate(16.80,0)" d="M1.9,0 H4.1 L6,2 V8 L4.1,10 H1.9 L0,8 V2 Z M0.5,8.6 L5.5,1.4"/></g>
<g transform="translate(880.000,341.300) scale(1.7361,1.5200)" fill="none" stroke="#ffffff" stroke-width="2.00" stroke-linecap="round" stroke-linejoin="round"><path vector-effect="non-scaling-stroke" transform="translate(0.00,0)" d="M0,2.2 Q0.6,0 3,0 Q6,0 6,2.6 Q6,4.4 3.8,5.8 L0,10 H6"/><path vector-effect="non-scaling-stroke" transform="translate(8.40,0)" d="M0,2.2 Q0.6,0 3,0 Q6,0 6,2.6 Q6,4.4 3.8,5.8 L0,10 H6"/></g>
<g transform="translate(932.300,352.600) scale(1.8246,1.6100)" fill="none" stroke="#ffffff" stroke-width="2.00" stroke-linecap="round" stroke-linejoin="round"><path vector-effect="non-scaling-stroke" transform="translate(0.00,0)" d="M0,10 V0 H4.6 L6,1.4 V4.2 L4.6,5.6 H0"/><path vector-effect="non-scaling-stroke" transform="translate(8.40,0)" d="M5.8,0 H0.6 L0.2,4.6 Q1.4,4 3,4 Q6,4 6,7 Q6,10 3,10 Q0.8,10 0,8.6"/><path vector-effect="non-scaling-stroke" transform="translate(16.80,0)" d="M0.8,9.4 V10"/><path vector-effect="non-scaling-stroke" transform="translate(20.80,0)" d="M1.9,0 H4.1 L6,2 V8 L4.1,10 H1.9 L0,8 V2 Z M0.5,8.6 L5.5,1.4"/></g>
<line x1="705.50" y1="408.50" x2="721.00" y2="400.50" stroke="#d02e2e" stroke-width="1"/>
<rect x="721.00" y="400" width="149.60" height="1" fill="#d02e2e"/>
<rect x="870.60" y="400" width="52.40" height="1" fill="#ffffff"/>
<g transform="translate(742.600,372.000) scale(2.1754,1.8000)" fill="none" stroke="#ffffff" stroke-width="2.00" stroke-linecap="round" stroke-linejoin="round"><path vector-effect="non-scaling-stroke" transform="translate(0.00,0)" d="M0,10 V0 H4.6 L6,1.4 V4.2 L4.6,5.6 H0"/><path vector-effect="non-scaling-stroke" transform="translate(8.40,0)" d="M5.8,0 H0.6 L0.2,4.6 Q1.4,4 3,4 Q6,4 6,7 Q6,10 3,10 Q0.8,10 0,8.6"/><path vector-effect="non-scaling-stroke" transform="translate(16.80,0)" d="M0,2.2 Q0.6,0 3,0 Q6,0 6,2.6 Q6,4.4 3.8,5.8 L0,10 H6"/></g>
<g transform="translate(880.000,378.300) scale(1.7361,1.5200)" fill="none" stroke="#ffffff" stroke-width="2.00" stroke-linecap="round" stroke-linejoin="round"><path vector-effect="non-scaling-stroke" transform="translate(0.00,0)" d="M0,2.2 Q0.6,0 3,0 Q6,0 6,2.6 Q6,4.4 3.8,5.8 L0,10 H6"/><path vector-effect="non-scaling-stroke" transform="translate(8.40,0)" d="M0,0 H6 L2.6,4.2 H4.4 L6,5.8 V8.4 L4.4,10 H1.4 L0,8.6"/></g>
<g transform="translate(932.300,389.600) scale(1.8246,1.6100)" fill="none" stroke="#ffffff" stroke-width="2.00" stroke-linecap="round" stroke-linejoin="round"><path vector-effect="non-scaling-stroke" transform="translate(0.00,0)" d="M0,10 V0 H4.6 L6,1.4 V4.2 L4.6,5.6 H0"/><path vector-effect="non-scaling-stroke" transform="translate(8.40,0)" d="M5.8,0 H0.6 L0.2,4.6 Q1.4,4 3,4 Q6,4 6,7 Q6,10 3,10 Q0.8,10 0,8.6"/><path vector-effect="non-scaling-stroke" transform="translate(16.80,0)" d="M0.8,9.4 V10"/><path vector-effect="non-scaling-stroke" transform="translate(20.80,0)" d="M0,2.2 Q0.6,0 3,0 Q6,0 6,2.6 Q6,4.4 3.8,5.8 L0,10 H6"/></g>
<line x1="705.50" y1="446.50" x2="721.00" y2="438.50" stroke="#d02e2e" stroke-width="1"/>
<rect x="721.00" y="438" width="149.60" height="1" fill="#d02e2e"/>
<rect x="870.60" y="438" width="52.40" height="1" fill="#ffffff"/>
<g transform="translate(742.600,410.000) scale(2.1754,1.8000)" fill="none" stroke="#ffffff" stroke-width="2.00" stroke-linecap="round" stroke-linejoin="round"><path vector-effect="non-scaling-stroke" transform="translate(0.00,0)" d="M0,10 V0 H4.6 L6,1.4 V4.2 L4.6,5.6 H0"/><path vector-effect="non-scaling-stroke" transform="translate(8.40,0)" d="M5.8,0 H0.6 L0.2,4.6 Q1.4,4 3,4 Q6,4 6,7 Q6,10 3,10 Q0.8,10 0,8.6"/><path vector-effect="non-scaling-stroke" transform="translate(16.80,0)" d="M0,0 H6 L2.6,4.2 H4.4 L6,5.8 V8.4 L4.4,10 H1.4 L0,8.6"/></g>
<g transform="translate(880.000,416.300) scale(1.8194,1.5200)" fill="none" stroke="#ffffff" stroke-width="2.00" stroke-linecap="round" stroke-linejoin="round"><path vector-effect="non-scaling-stroke" transform="translate(0.00,0)" d="M0,2.2 Q0.6,0 3,0 Q6,0 6,2.6 Q6,4.4 3.8,5.8 L0,10 H6"/><path vector-effect="non-scaling-stroke" transform="translate(8.40,0)" d="M4.6,10 V0 L0,7 H6"/></g>
<g transform="translate(932.300,427.600) scale(1.8246,1.6100)" fill="none" stroke="#ffffff" stroke-width="2.00" stroke-linecap="round" stroke-linejoin="round"><path vector-effect="non-scaling-stroke" transform="translate(0.00,0)" d="M0,10 V0 H4.6 L6,1.4 V4.2 L4.6,5.6 H0"/><path vector-effect="non-scaling-stroke" transform="translate(8.40,0)" d="M5.8,0 H0.6 L0.2,4.6 Q1.4,4 3,4 Q6,4 6,7 Q6,10 3,10 Q0.8,10 0,8.6"/><path vector-effect="non-scaling-stroke" transform="translate(16.80,0)" d="M0.8,9.4 V10"/><path vector-effect="non-scaling-stroke" transform="translate(20.80,0)" d="M0,0 H6 L2.6,4.2 H4.4 L6,5.8 V8.4 L4.4,10 H1.4 L0,8.6"/></g>
<line x1="705.50" y1="483.50" x2="721.00" y2="475.50" stroke="#d02e2e" stroke-width="1"/>
<rect x="721.00" y="475" width="149.60" height="1" fill="#d02e2e"/>
<rect x="870.60" y="475" width="52.40" height="1" fill="#ffffff"/>
<g transform="translate(742.600,447.000) scale(2.1754,1.8000)" fill="none" stroke="#ffffff" stroke-width="2.00" stroke-linecap="round" stroke-linejoin="round"><path vector-effect="non-scaling-stroke" transform="translate(0.00,0)" d="M0,10 V0 H4.6 L6,1.4 V4.2 L4.6,5.6 H0"/><path vector-effect="non-scaling-stroke" transform="translate(8.40,0)" d="M5.8,0 H0.6 L0.2,4.6 Q1.4,4 3,4 Q6,4 6,7 Q6,10 3,10 Q0.8,10 0,8.6"/><path vector-effect="non-scaling-stroke" transform="translate(16.80,0)" d="M4.6,10 V0 L0,7 H6"/></g>
<g transform="translate(880.000,453.300) scale(1.7361,1.5200)" fill="none" stroke="#ffffff" stroke-width="2.00" stroke-linecap="round" stroke-linejoin="round"><path vector-effect="non-scaling-stroke" transform="translate(0.00,0)" d="M0,2.2 Q0.6,0 3,0 Q6,0 6,2.6 Q6,4.4 3.8,5.8 L0,10 H6"/><path vector-effect="non-scaling-stroke" transform="translate(8.40,0)" d="M3,0 Q0.4,0 0.4,2.3 Q0.4,4.6 3,4.6 Q5.6,4.6 5.6,2.3 Q5.6,0 3,0 Z M3,4.6 Q0,4.6 0,7.3 Q0,10 3,10 Q6,10 6,7.3 Q6,4.6 3,4.6 Z"/></g>
<g transform="translate(932.300,464.600) scale(1.8246,1.6100)" fill="none" stroke="#ffffff" stroke-width="2.00" stroke-linecap="round" stroke-linejoin="round"><path vector-effect="non-scaling-stroke" transform="translate(0.00,0)" d="M0,10 V0 H4.6 L6,1.4 V4.2 L4.6,5.6 H0"/><path vector-effect="non-scaling-stroke" transform="translate(8.40,0)" d="M5.8,0 H0.6 L0.2,4.6 Q1.4,4 3,4 Q6,4 6,7 Q6,10 3,10 Q0.8,10 0,8.6"/><path vector-effect="non-scaling-stroke" transform="translate(16.80,0)" d="M0.8,9.4 V10"/><path vector-effect="non-scaling-stroke" transform="translate(20.80,0)" d="M4.6,10 V0 L0,7 H6"/></g>
<line x1="705.50" y1="520.50" x2="721.00" y2="512.50" stroke="#d02e2e" stroke-width="1"/>
<rect x="721.00" y="512" width="149.60" height="1" fill="#d02e2e"/>
<rect x="870.60" y="512" width="52.40" height="1" fill="#ffffff"/>
<g transform="translate(742.600,484.000) scale(2.1754,1.8000)" fill="none" stroke="#ffffff" stroke-width="2.00" stroke-linecap="round" stroke-linejoin="round"><path vector-effect="non-scaling-stroke" transform="translate(0.00,0)" d="M0,10 V0 H4.6 L6,1.4 V4.2 L4.6,5.6 H0"/><path vector-effect="non-scaling-stroke" transform="translate(8.40,0)" d="M5.8,0 H0.6 L0.2,4.6 Q1.4,4 3,4 Q6,4 6,7 Q6,10 3,10 Q0.8,10 0,8.6"/><path vector-effect="non-scaling-stroke" transform="translate(16.80,0)" d="M5.8,0 H0.6 L0.2,4.6 Q1.4,4 3,4 Q6,4 6,7 Q6,10 3,10 Q0.8,10 0,8.6"/></g>
<g transform="translate(880.000,490.300) scale(1.8194,1.5200)" fill="none" stroke="#ffffff" stroke-width="2.00" stroke-linecap="round" stroke-linejoin="round"><path vector-effect="non-scaling-stroke" transform="translate(0.00,0)" d="M0,2.2 Q0.6,0 3,0 Q6,0 6,2.6 Q6,4.4 3.8,5.8 L0,10 H6"/><path vector-effect="non-scaling-stroke" transform="translate(8.40,0)" d="M6,3.3 Q6,6.4 3,6.4 Q0,6.4 0,3.2 Q0,0 3,0 Q6,0 6,3.3 V7.6 Q6,10 3.6,10 H0.4"/></g>
<g transform="translate(932.300,501.600) scale(1.8246,1.6100)" fill="none" stroke="#ffffff" stroke-width="2.00" stroke-linecap="round" stroke-linejoin="round"><path vector-effect="non-scaling-stroke" transform="translate(0.00,0)" d="M0,10 V0 H4.6 L6,1.4 V4.2 L4.6,5.6 H0"/><path vector-effect="non-scaling-stroke" transform="translate(8.40,0)" d="M5.8,0 H0.6 L0.2,4.6 Q1.4,4 3,4 Q6,4 6,7 Q6,10 3,10 Q0.8,10 0,8.6"/><path vector-effect="non-scaling-stroke" transform="translate(16.80,0)" d="M0.8,9.4 V10"/><path vector-effect="non-scaling-stroke" transform="translate(20.80,0)" d="M5.8,0 H0.6 L0.2,4.6 Q1.4,4 3,4 Q6,4 6,7 Q6,10 3,10 Q0.8,10 0,8.6"/></g>
<line x1="705.50" y1="558.50" x2="721.00" y2="550.50" stroke="#d02e2e" stroke-width="1"/>
<rect x="721.00" y="550" width="149.60" height="1" fill="#d02e2e"/>
<rect x="870.60" y="550" width="52.40" height="1" fill="#ffffff"/>
<g transform="translate(742.600,522.000) scale(2.1754,1.8000)" fill="none" stroke="#ffffff" stroke-width="2.00" stroke-linecap="round" stroke-linejoin="round"><path vector-effect="non-scaling-stroke" transform="translate(0.00,0)" d="M0,10 V0 H4.6 L6,1.4 V4.2 L4.6,5.6 H0"/><path vector-effect="non-scaling-stroke" transform="translate(8.40,0)" d="M5.8,0 H0.6 L0.2,4.6 Q1.4,4 3,4 Q6,4 6,7 Q6,10 3,10 Q0.8,10 0,8.6"/><path vector-effect="non-scaling-stroke" transform="translate(16.80,0)" d="M3,0 Q0.4,0 0.4,2.3 Q0.4,4.6 3,4.6 Q5.6,4.6 5.6,2.3 Q5.6,0 3,0 Z M3,4.6 Q0,4.6 0,7.3 Q0,10 3,10 Q6,10 6,7.3 Q6,4.6 3,4.6 Z"/></g>
<g transform="translate(880.000,528.300) scale(1.7361,1.5200)" fill="none" stroke="#ffffff" stroke-width="2.00" stroke-linecap="round" stroke-linejoin="round"><path vector-effect="non-scaling-stroke" transform="translate(0.00,0)" d="M0,0 H6 L2.6,4.2 H4.4 L6,5.8 V8.4 L4.4,10 H1.4 L0,8.6"/><path vector-effect="non-scaling-stroke" transform="translate(8.40,0)" d="M1.9,0 H4.1 L6,2 V8 L4.1,10 H1.9 L0,8 V2 Z M0.5,8.6 L5.5,1.4"/></g>
<g transform="translate(932.300,539.600) scale(1.8246,1.6100)" fill="none" stroke="#ffffff" stroke-width="2.00" stroke-linecap="round" stroke-linejoin="round"><path vector-effect="non-scaling-stroke" transform="translate(0.00,0)" d="M0,10 V0 H4.6 L6,1.4 V4.2 L4.6,5.6 H0"/><path vector-effect="non-scaling-stroke" transform="translate(8.40,0)" d="M5.8,0 H0.6 L0.2,4.6 Q1.4,4 3,4 Q6,4 6,7 Q6,10 3,10 Q0.8,10 0,8.6"/><path vector-effect="non-scaling-stroke" transform="translate(16.80,0)" d="M0.8,9.4 V10"/><path vector-effect="non-scaling-stroke" transform="translate(20.80,0)" d="M3,0 Q0.4,0 0.4,2.3 Q0.4,4.6 3,4.6 Q5.6,4.6 5.6,2.3 Q5.6,0 3,0 Z M3,4.6 Q0,4.6 0,7.3 Q0,10 3,10 Q6,10 6,7.3 Q6,4.6 3,4.6 Z"/></g>
<line x1="705.50" y1="595.50" x2="721.00" y2="587.50" stroke="#d02e2e" stroke-width="1"/>
<rect x="721.00" y="587" width="149.60" height="1" fill="#d02e2e"/>
<rect x="870.60" y="587" width="52.40" height="1" fill="#ffffff"/>
<g transform="translate(742.600,559.000) scale(2.1754,1.8000)" fill="none" stroke="#ffffff" stroke-width="2.00" stroke-linecap="round" stroke-linejoin="round"><path vector-effect="non-scaling-stroke" transform="translate(0.00,0)" d="M0,10 V0 H4.6 L6,1.4 V4.2 L4.6,5.6 H0"/><path vector-effect="non-scaling-stroke" transform="translate(8.40,0)" d="M5.8,0 H0.6 L0.2,4.6 Q1.4,4 3,4 Q6,4 6,7 Q6,10 3,10 Q0.8,10 0,8.6"/><path vector-effect="non-scaling-stroke" transform="translate(16.80,0)" d="M6,3.3 Q6,6.4 3,6.4 Q0,6.4 0,3.2 Q0,0 3,0 Q6,0 6,3.3 V7.6 Q6,10 3.6,10 H0.4"/></g>
<g transform="translate(884.800,565.300) scale(1.8500,1.5200)" fill="none" stroke="#ffffff" stroke-width="2.00" stroke-linecap="round" stroke-linejoin="round"><path vector-effect="non-scaling-stroke" transform="translate(0.00,0)" d="M0,0 H6 L2.6,4.2 H4.4 L6,5.8 V8.4 L4.4,10 H1.4 L0,8.6"/><path vector-effect="non-scaling-stroke" transform="translate(8.40,0)" d="M1.7,1.8 L3.6,0 V10"/></g>
<g transform="translate(932.300,576.600) scale(1.8246,1.6100)" fill="none" stroke="#ffffff" stroke-width="2.00" stroke-linecap="round" stroke-linejoin="round"><path vector-effect="non-scaling-stroke" transform="translate(0.00,0)" d="M0,10 V0 H4.6 L6,1.4 V4.2 L4.6,5.6 H0"/><path vector-effect="non-scaling-stroke" transform="translate(8.40,0)" d="M5.8,0 H0.6 L0.2,4.6 Q1.4,4 3,4 Q6,4 6,7 Q6,10 3,10 Q0.8,10 0,8.6"/><path vector-effect="non-scaling-stroke" transform="translate(16.80,0)" d="M0.8,9.4 V10"/><path vector-effect="non-scaling-stroke" transform="translate(20.80,0)" d="M6,3.3 Q6,6.4 3,6.4 Q0,6.4 0,3.2 Q0,0 3,0 Q6,0 6,3.3 V7.6 Q6,10 3.6,10 H0.4"/></g>
<line x1="705.50" y1="632.50" x2="721.00" y2="624.50" stroke="#d02e2e" stroke-width="1"/>
<rect x="721.00" y="624" width="149.60" height="1" fill="#d02e2e"/>
<rect x="870.60" y="624" width="52.40" height="1" fill="#ffffff"/>
<g transform="translate(736.300,596.000) scale(1.8502,1.8000)" fill="none" stroke="#ffffff" stroke-width="2.00" stroke-linecap="round" stroke-linejoin="round"><path vector-effect="non-scaling-stroke" transform="translate(0.00,0)" d="M0,10 V0 H4.6 L6,1.4 V4.2 L4.6,5.6 H0"/><path vector-effect="non-scaling-stroke" transform="translate(8.40,0)" d="M5.8,0 H0.6 L0.2,4.6 Q1.4,4 3,4 Q6,4 6,7 Q6,10 3,10 Q0.8,10 0,8.6"/><path vector-effect="non-scaling-stroke" transform="translate(20.70,0)" d="M1.7,1.8 L3.6,0 V10"/><path vector-effect="non-scaling-stroke" transform="translate(26.70,0)" d="M1.9,0 H4.1 L6,2 V8 L4.1,10 H1.9 L0,8 V2 Z M0.5,8.6 L5.5,1.4"/></g>
<g transform="translate(880.000,602.300) scale(1.7361,1.5200)" fill="none" stroke="#ffffff" stroke-width="2.00" stroke-linecap="round" stroke-linejoin="round"><path vector-effect="non-scaling-stroke" transform="translate(0.00,0)" d="M0,0 H6 L2.6,4.2 H4.4 L6,5.8 V8.4 L4.4,10 H1.4 L0,8.6"/><path vector-effect="non-scaling-stroke" transform="translate(8.40,0)" d="M0,2.2 Q0.6,0 3,0 Q6,0 6,2.6 Q6,4.4 3.8,5.8 L0,10 H6"/></g>
<g transform="translate(932.300,613.600) scale(1.8049,1.6100)" fill="none" stroke="#ffffff" stroke-width="2.00" stroke-linecap="round" stroke-linejoin="round"><path vector-effect="non-scaling-stroke" transform="translate(0.00,0)" d="M0,10 V0 H4.6 L6,1.4 V4.2 L4.6,5.6 H0"/><path vector-effect="non-scaling-stroke" transform="translate(8.40,0)" d="M5.8,0 H0.6 L0.2,4.6 Q1.4,4 3,4 Q6,4 6,7 Q6,10 3,10 Q0.8,10 0,8.6"/><path vector-effect="non-scaling-stroke" transform="translate(16.80,0)" d="M0.8,9.4 V10"/><path vector-effect="non-scaling-stroke" transform="translate(20.80,0)" d="M1.7,1.8 L3.6,0 V10"/><path vector-effect="non-scaling-stroke" transform="translate(26.80,0)" d="M1.9,0 H4.1 L6,2 V8 L4.1,10 H1.9 L0,8 V2 Z M0.5,8.6 L5.5,1.4"/></g>
<line x1="705.50" y1="670.50" x2="721.00" y2="662.50" stroke="#d02e2e" stroke-width="1"/>
<rect x="721.00" y="662" width="149.60" height="1" fill="#d02e2e"/>
<rect x="870.60" y="662" width="52.40" height="1" fill="#ffffff"/>
<g transform="translate(739.400,634.000) scale(1.8944,1.8000)" fill="none" stroke="#ffffff" stroke-width="2.00" stroke-linecap="round" stroke-linejoin="round"><path vector-effect="non-scaling-stroke" transform="translate(0.00,0)" d="M0,10 V0 H4.6 L6,1.4 V4.2 L4.6,5.6 H0"/><path vector-effect="non-scaling-stroke" transform="translate(8.40,0)" d="M5.8,0 H0.6 L0.2,4.6 Q1.4,4 3,4 Q6,4 6,7 Q6,10 3,10 Q0.8,10 0,8.6"/><path vector-effect="non-scaling-stroke" transform="translate(20.70,0)" d="M1.7,1.8 L3.6,0 V10"/><path vector-effect="non-scaling-stroke" transform="translate(26.70,0)" d="M1.7,1.8 L3.6,0 V10"/></g>
<g transform="translate(880.000,640.300) scale(1.7361,1.5200)" fill="none" stroke="#ffffff" stroke-width="2.00" stroke-linecap="round" stroke-linejoin="round"><path vector-effect="non-scaling-stroke" transform="translate(0.00,0)" d="M0,0 H6 L2.6,4.2 H4.4 L6,5.8 V8.4 L4.4,10 H1.4 L0,8.6"/><path vector-effect="non-scaling-stroke" transform="translate(8.40,0)" d="M0,0 H6 L2.6,4.2 H4.4 L6,5.8 V8.4 L4.4,10 H1.4 L0,8.6"/></g>
<g transform="translate(932.300,651.600) scale(1.8125,1.6100)" fill="none" stroke="#ffffff" stroke-width="2.00" stroke-linecap="round" stroke-linejoin="round"><path vector-effect="non-scaling-stroke" transform="translate(0.00,0)" d="M0,10 V0 H4.6 L6,1.4 V4.2 L4.6,5.6 H0"/><path vector-effect="non-scaling-stroke" transform="translate(8.40,0)" d="M5.8,0 H0.6 L0.2,4.6 Q1.4,4 3,4 Q6,4 6,7 Q6,10 3,10 Q0.8,10 0,8.6"/><path vector-effect="non-scaling-stroke" transform="translate(16.80,0)" d="M0.8,9.4 V10"/><path vector-effect="non-scaling-stroke" transform="translate(20.80,0)" d="M1.7,1.8 L3.6,0 V10"/><path vector-effect="non-scaling-stroke" transform="translate(26.80,0)" d="M1.7,1.8 L3.6,0 V10"/></g>
<line x1="705.50" y1="707.50" x2="721.00" y2="699.50" stroke="#d02e2e" stroke-width="1"/>
<g transform="translate(736.300,671.000) scale(1.8502,1.8000)" fill="none" stroke="#ffffff" stroke-width="2.00" stroke-linecap="round" stroke-linejoin="round"><path vector-effect="non-scaling-stroke" transform="translate(0.00,0)" d="M0,10 V0 H4.6 L6,1.4 V4.2 L4.6,5.6 H0"/><path vector-effect="non-scaling-stroke" transform="translate(8.40,0)" d="M5.8,0 H0.6 L0.2,4.6 Q1.4,4 3,4 Q6,4 6,7 Q6,10 3,10 Q0.8,10 0,8.6"/><path vector-effect="non-scaling-stroke" transform="translate(20.70,0)" d="M1.7,1.8 L3.6,0 V10"/><path vector-effect="non-scaling-stroke" transform="translate(26.70,0)" d="M0,0 H6 L2.6,4.2 H4.4 L6,5.8 V8.4 L4.4,10 H1.4 L0,8.6"/></g>
<g transform="translate(41.500,73.600) scale(2.1853,1.8000)" fill="none" stroke="#ffffff" stroke-width="2.00" stroke-linecap="round" stroke-linejoin="round"><path vector-effect="non-scaling-stroke" transform="translate(0.00,0)" d="M0,0 L3.2,10 L6.4,0"/><path vector-effect="non-scaling-stroke" transform="translate(8.80,0)" d="M0,10 V0 H4 L5.6,1.6 V3.2 L4,4.8 H0 M4,4.8 L6,6.6 V8.2 L4.2,10 H0"/><path vector-effect="non-scaling-stroke" transform="translate(17.20,0)" d="M0,10 V0 H4.6 L6,1.4 V4.2 L4.6,5.6 H0 M3,5.6 L6,10"/></g>
<g transform="translate(634.700,73.600) scale(2.1042,1.8000)" fill="none" stroke="#ffffff" stroke-width="2.00" stroke-linecap="round" stroke-linejoin="round"><path vector-effect="non-scaling-stroke" transform="translate(0.00,0)" d="M0,10 V0 H4.6 L6,1.4 V4.2 L4.6,5.6 H0"/><path vector-effect="non-scaling-stroke" transform="translate(8.40,0)" d="M5.8,0 H0.6 L0.2,4.6 Q1.4,4 3,4 Q6,4 6,7 Q6,10 3,10 Q0.8,10 0,8.6"/><path vector-effect="non-scaling-stroke" transform="translate(16.80,0)" d="M1.7,1.8 L3.6,0 V10"/><path vector-effect="non-scaling-stroke" transform="translate(22.80,0)" d="M5.8,0 H0.6 L0.2,4.6 Q1.4,4 3,4 Q6,4 6,7 Q6,10 3,10 Q0.8,10 0,8.6"/></g>
<g transform="translate(35.700,261.000) scale(2.2177,1.7600)" fill="none" stroke="#ffffff" stroke-width="2.00" stroke-linecap="round" stroke-linejoin="round"><path vector-effect="non-scaling-stroke" transform="translate(0.00,0)" d="M0,0 V10 H4.1 L6,8.1 V1.9 L4.1,0 Z"/><path vector-effect="non-scaling-stroke" transform="translate(8.40,0)" d="M0,10 V0 H4.6 L6,1.4 V4.2 L4.6,5.6 H0"/><path vector-effect="non-scaling-stroke" transform="translate(16.80,0)" d="M0,0 V10 H4.1 L6,8.1 V1.9 L4.1,0 Z"/><path vector-effect="non-scaling-stroke" transform="translate(25.20,0)" d="M0,0 H6 L0,10 H6"/><path vector-effect="non-scaling-stroke" transform="translate(33.60,0)" d="M1.7,1.8 L3.6,0 V10"/></g>
<g transform="translate(160.500,270.300) scale(1.4301,1.4600)" fill="none" stroke="#ffffff" stroke-width="1.00" stroke-linecap="round" stroke-linejoin="round"><path vector-effect="non-scaling-stroke" transform="translate(0.00,0)" d="M1.4,10 L4.6,0 L7.8,10 M0,11.3 V10 H9.2 V11.3"/><path vector-effect="non-scaling-stroke" transform="translate(11.60,0)" d="M0,10 V0 H5.6 V10"/><path vector-effect="non-scaling-stroke" transform="translate(19.60,0)" d="M1.4,10 L4.6,0 L7.8,10 M0,11.3 V10 H9.2 V11.3"/><path vector-effect="non-scaling-stroke" transform="translate(31.20,0)" d="M0,1.6 Q0.8,0 3,0 Q5.6,0 5.6,2.3 Q5.6,4.6 3,4.6 H2.4 H3 Q6,4.6 6,7.3 Q6,10 3,10 Q0.8,10 0,8.4"/></g>
<g transform="translate(44.000,540.700) scale(2.3186,1.7300)" fill="none" stroke="#ffffff" stroke-width="2.00" stroke-linecap="round" stroke-linejoin="round"><path vector-effect="non-scaling-stroke" transform="translate(0.00,0)" d="M0,0 V10 H4.1 L6,8.1 V1.9 L4.1,0 Z"/><path vector-effect="non-scaling-stroke" transform="translate(8.40,0)" d="M0,0 V10 M6,0 L0,6.4 M2.2,4.2 L6,10"/><path vector-effect="non-scaling-stroke" transform="translate(16.80,0)" d="M1.7,1.8 L3.6,0 V10"/></g>
<g transform="translate(104.400,550.800) scale(1.5975,1.3700)" fill="none" stroke="#ffffff" stroke-width="1.00" stroke-linecap="round" stroke-linejoin="round"><path vector-effect="non-scaling-stroke" transform="translate(0.00,0)" d="M1.4,10 L4.6,0 L7.8,10 M0,11.3 V10 H9.2 V11.3"/><path vector-effect="non-scaling-stroke" transform="translate(11.60,0)" d="M0,0 V10 M6,0 L0,6.4 M2.2,4.2 L6,10"/><path vector-effect="non-scaling-stroke" transform="translate(20.00,0)" d="M1.7,1.8 L3.6,0 V10"/></g>
<g transform="translate(75.000,651.600) scale(2.1216,1.7400)" fill="none" stroke="#ffffff" stroke-width="2.00" stroke-linecap="round" stroke-linejoin="round"><path vector-effect="non-scaling-stroke" transform="translate(0.00,0)" d="M0,0 L3.2,10 L6.4,0"/><path vector-effect="non-scaling-stroke" transform="translate(8.80,0)" d="M5.8,1.6 Q5,0 3,0 Q0.2,0 0.2,2.6 Q0.2,4.6 3,5 Q6,5.4 6,7.5 Q6,10 3,10 Q1,10 0,8.4"/></g>
<g transform="translate(640.600,260.500) scale(2.1184,1.8000)" fill="none" stroke="#ffffff" stroke-width="2.00" stroke-linecap="round" stroke-linejoin="round"><path vector-effect="non-scaling-stroke" transform="translate(0.00,0)" d="M0,10 V0 H4.6 L6,1.4 V4.2 L4.6,5.6 H0"/><path vector-effect="non-scaling-stroke" transform="translate(8.40,0)" d="M5.8,0 H0.6 L0.2,4.6 Q1.4,4 3,4 Q6,4 6,7 Q6,10 3,10 Q0.8,10 0,8.6"/><path vector-effect="non-scaling-stroke" transform="translate(16.80,0)" d="M1.9,0 H4.1 L6,2 V8 L4.1,10 H1.9 L0,8 V2 Z M0.5,8.6 L5.5,1.4"/></g>
<g transform="translate(646.900,447.800) scale(2.2304,1.7500)" fill="none" stroke="#ffffff" stroke-width="2.00" stroke-linecap="round" stroke-linejoin="round"><path vector-effect="non-scaling-stroke" transform="translate(0.00,0)" d="M0,10 V0 H4.6 L6,1.4 V4.2 L4.6,5.6 H0"/><path vector-effect="non-scaling-stroke" transform="translate(8.40,0)" d="M5.6,1.2 Q5,0 3,0 Q0,0 0,4.6 V7 Q0,10 3,10 Q6,10 6,7.2 Q6,4.4 3,4.4 Q0,4.4 0,7"/><path vector-effect="non-scaling-stroke" transform="translate(16.80,0)" d="M1.7,1.8 L3.6,0 V10"/></g>
<g transform="translate(640.800,540.500) scale(2.1053,1.7500)" fill="none" stroke="#ffffff" stroke-width="2.00" stroke-linecap="round" stroke-linejoin="round"><path vector-effect="non-scaling-stroke" transform="translate(0.00,0)" d="M0,10 V0 H4.6 L6,1.4 V4.2 L4.6,5.6 H0"/><path vector-effect="non-scaling-stroke" transform="translate(8.40,0)" d="M5.8,0 H0.6 L0.2,4.6 Q1.4,4 3,4 Q6,4 6,7 Q6,10 3,10 Q0.8,10 0,8.6"/><path vector-effect="non-scaling-stroke" transform="translate(16.80,0)" d="M3,0 Q0.4,0 0.4,2.3 Q0.4,4.6 3,4.6 Q5.6,4.6 5.6,2.3 Q5.6,0 3,0 Z M3,4.6 Q0,4.6 0,7.3 Q0,10 3,10 Q6,10 6,7.3 Q6,4.6 3,4.6 Z"/></g>
<g transform="translate(880.500,265.700) scale(1.8750,1.5900)" fill="none" stroke="#ffffff" stroke-width="2.00" stroke-linecap="round" stroke-linejoin="round"><path vector-effect="non-scaling-stroke" transform="translate(0.00,0)" d="M6,3.3 Q6,6.4 3,6.4 Q0,6.4 0,3.2 Q0,0 3,0 Q6,0 6,3.3 V7.6 Q6,10 3.6,10 H0.4"/><path vector-effect="non-scaling-stroke" transform="translate(8.40,0)" d="M5.8,0 H0.6 L0.2,4.6 Q1.4,4 3,4 Q6,4 6,7 Q6,10 3,10 Q0.8,10 0,8.6"/></g>
<g transform="translate(932.800,278.300) scale(1.7475,1.6500)" fill="none" stroke="#ffffff" stroke-width="2.00" stroke-linecap="round" stroke-linejoin="round"><path vector-effect="non-scaling-stroke" transform="translate(0.00,0)" d="M0,0 L6,10 M6,0 L0,10"/><path vector-effect="non-scaling-stroke" transform="translate(8.40,0)" d="M0,0 H6 M3,0 V10"/><path vector-effect="non-scaling-stroke" transform="translate(16.80,0)" d="M0,10 L3.2,0 L6.4,10 M1.1,6.6 H5.3"/><path vector-effect="non-scaling-stroke" transform="translate(25.60,0)" d="M0,0 V10 H5.6"/><path vector-effect="non-scaling-stroke" transform="translate(33.60,0)" d="M0,2.2 Q0.6,0 3,0 Q6,0 6,2.6 Q6,4.4 3.8,5.8 L0,10 H6"/></g>
<g transform="translate(165.400,95.700) scale(1.1717,1.0800)" fill="none" stroke="#2a9890" stroke-width="1.00" stroke-linecap="round" stroke-linejoin="round"><path vector-effect="non-scaling-stroke" transform="translate(0.00,0)" d="M0,10 V0 H4.6 L6,1.4 V4.2 L4.6,5.6 H0 M3,5.6 L6,10"/><path vector-effect="non-scaling-stroke" transform="translate(8.40,0)" d="M1.9,0 H4.1 L6,2 V8 L4.1,10 H1.9 L0,8 V2 Z M0.5,8.6 L5.5,1.4"/><path vector-effect="non-scaling-stroke" transform="translate(16.80,0)" d="M3,0 Q0.4,0 0.4,2.3 Q0.4,4.6 3,4.6 Q5.6,4.6 5.6,2.3 Q5.6,0 3,0 Z M3,4.6 Q0,4.6 0,7.3 Q0,10 3,10 Q6,10 6,7.3 Q6,4.6 3,4.6 Z"/><path vector-effect="non-scaling-stroke" transform="translate(25.20,0)" d="M1.9,0 H4.1 L6,2 V8 L4.1,10 H1.9 L0,8 V2 Z M0.5,8.6 L5.5,1.4"/><path vector-effect="non-scaling-stroke" transform="translate(33.60,0)" d="M5.8,0 H0.6 L0.2,4.6 Q1.4,4 3,4 Q6,4 6,7 Q6,10 3,10 Q0.8,10 0,8.6"/></g>
<g transform="translate(167.700,117.300) scale(1.7961,1.5000)" fill="none" stroke="#2a9890" stroke-width="2.00" stroke-linecap="round" stroke-linejoin="round"><path vector-effect="non-scaling-stroke" transform="translate(0.00,0)" d="M6,3.3 Q6,6.4 3,6.4 Q0,6.4 0,3.2 Q0,0 3,0 Q6,0 6,3.3 V7.6 Q6,10 3.6,10 H0.4"/><path vector-effect="non-scaling-stroke" transform="translate(8.40,0)" d="M1.9,0 H4.1 L6,2 V8 L4.1,10 H1.9 L0,8 V2 Z M0.5,8.6 L5.5,1.4"/><path vector-effect="non-scaling-stroke" transform="translate(16.80,0)" d="M0,0 V10 M5,3.6 L0,7.4 M1.7,6.1 L5.2,10"/><path vector-effect="non-scaling-stroke" transform="translate(24.40,0)" d="M6,3.3 Q6,6.4 3,6.4 Q0,6.4 0,3.2 Q0,0 3,0 Q6,0 6,3.3 V7.6 Q6,10 3.6,10 H0.4"/></g>
<g transform="translate(360.000,153.300) scale(2.2708,2.0600)" fill="none" stroke="#2a9890" stroke-width="2.00" stroke-linecap="round" stroke-linejoin="round"><path vector-effect="non-scaling-stroke" transform="translate(0.00,0)" d="M0,10 V0 H4.6 L6,1.4 V4.2 L4.6,5.6 H0 M3,5.6 L6,10"/><path vector-effect="non-scaling-stroke" transform="translate(8.40,0)" d="M0,2.2 Q0.6,0 3,0 Q6,0 6,2.6 Q6,4.4 3.8,5.8 L0,10 H6"/></g>
<g transform="translate(350.000,210.600) scale(1.7434,1.4900)" fill="none" stroke="#2a9890" stroke-width="2.00" stroke-linecap="round" stroke-linejoin="round"><path vector-effect="non-scaling-stroke" transform="translate(0.00,0)" d="M0,2.2 Q0.6,0 3,0 Q6,0 6,2.6 Q6,4.4 3.8,5.8 L0,10 H6"/><path vector-effect="non-scaling-stroke" transform="translate(8.40,0)" d="M4.6,10 V0 L0,7 H6"/><path vector-effect="non-scaling-stroke" transform="translate(16.80,0)" d="M0,0 V10 M5,3.6 L0,7.4 M1.7,6.1 L5.2,10"/><path vector-effect="non-scaling-stroke" transform="translate(24.40,0)" d="M6,3.3 Q6,6.4 3,6.4 Q0,6.4 0,3.2 Q0,0 3,0 Q6,0 6,3.3 V7.6 Q6,10 3.6,10 H0.4"/></g>
<g transform="translate(499.700,112.000) scale(2.2190,1.9000)" fill="none" stroke="#2a9890" stroke-width="2.00" stroke-linecap="round" stroke-linejoin="round"><path vector-effect="non-scaling-stroke" transform="translate(0.00,0)" d="M7,2 Q6,0 3.7,0 Q0,0 0,5 Q0,10 3.7,10 Q6,10 7,8"/><path vector-effect="non-scaling-stroke" transform="translate(9.40,0)" d="M1.7,1.8 L3.6,0 V10"/><path vector-effect="non-scaling-stroke" transform="translate(15.40,0)" d="M1.7,1.8 L3.6,0 V10"/><path vector-effect="non-scaling-stroke" transform="translate(21.40,0)" d="M5.8,0 H0.6 L0.2,4.6 Q1.4,4 3,4 Q6,4 6,7 Q6,10 3,10 Q0.8,10 0,8.6"/></g>
<g transform="translate(498.500,140.500) scale(1.1946,1.0700)" fill="none" stroke="#2a9890" stroke-width="1.00" stroke-linecap="round" stroke-linejoin="round"><path vector-effect="non-scaling-stroke" transform="translate(0.00,0)" d="M7,2 Q6,0 3.7,0 Q0,0 0,5 Q0,10 3.7,10 Q6,10 7,8"/><path vector-effect="non-scaling-stroke" transform="translate(9.40,0)" d="M1.9,0 H4.1 L6,2 V8 L4.1,10 H1.9 L0,8 V2 Z M0.5,8.6 L5.5,1.4"/><path vector-effect="non-scaling-stroke" transform="translate(17.80,0)" d="M5.6,1.2 Q5,0 3,0 Q0,0 0,4.6 V7 Q0,10 3,10 Q6,10 6,7.2 Q6,4.4 3,4.4 Q0,4.4 0,7"/><path vector-effect="non-scaling-stroke" transform="translate(26.20,0)" d="M1.9,0 H4.1 L6,2 V8 L4.1,10 H1.9 L0,8 V2 Z M0.5,8.6 L5.5,1.4"/><path vector-effect="non-scaling-stroke" transform="translate(34.60,0)" d="M0,0 H6 L2.6,4.2 H4.4 L6,5.8 V8.4 L4.4,10 H1.4 L0,8.6"/></g>
<g transform="translate(499.700,162.700) scale(1.8318,1.6000)" fill="none" stroke="#2a9890" stroke-width="2.00" stroke-linecap="round" stroke-linejoin="round"><path vector-effect="non-scaling-stroke" transform="translate(0.00,0)" d="M0,0 H6 L2.6,4.2 H4.4 L6,5.8 V8.4 L4.4,10 H1.4 L0,8.6"/><path vector-effect="non-scaling-stroke" transform="translate(8.40,0)" d="M0,0 H6 L2.6,4.2 H4.4 L6,5.8 V8.4 L4.4,10 H1.4 L0,8.6"/><path vector-effect="non-scaling-stroke" transform="translate(16.80,0)" d="M0,3.6 V10 M0,5.6 Q0.8,3.6 2.6,3.6 Q5.2,3.6 5.2,5.8 V10"/></g>
<g transform="translate(359.300,247.100) scale(2.3611,2.0600)" fill="none" stroke="#2a9890" stroke-width="2.00" stroke-linecap="round" stroke-linejoin="round"><path vector-effect="non-scaling-stroke" transform="translate(0.00,0)" d="M0,10 V0 H4.6 L6,1.4 V4.2 L4.6,5.6 H0 M3,5.6 L6,10"/><path vector-effect="non-scaling-stroke" transform="translate(8.40,0)" d="M0,0 H6 L2.6,4.2 H4.4 L6,5.8 V8.4 L4.4,10 H1.4 L0,8.6"/></g>
<g transform="translate(359.900,307.500) scale(1.7773,1.6300)" fill="none" stroke="#2a9890" stroke-width="2.00" stroke-linecap="round" stroke-linejoin="round"><path vector-effect="non-scaling-stroke" transform="translate(0.00,0)" d="M0,2.2 Q0.6,0 3,0 Q6,0 6,2.6 Q6,4.4 3.8,5.8 L0,10 H6"/><path vector-effect="non-scaling-stroke" transform="translate(8.40,0)" d="M0,2.2 Q0.6,0 3,0 Q6,0 6,2.6 Q6,4.4 3.8,5.8 L0,10 H6"/><path vector-effect="non-scaling-stroke" transform="translate(16.80,0)" d="M0,0 V10 M5,3.6 L0,7.4 M1.7,6.1 L5.2,10"/></g>
<g transform="translate(359.700,340.800) scale(2.3264,2.0200)" fill="none" stroke="#2a9890" stroke-width="2.00" stroke-linecap="round" stroke-linejoin="round"><path vector-effect="non-scaling-stroke" transform="translate(0.00,0)" d="M0,10 V0 H4.6 L6,1.4 V4.2 L4.6,5.6 H0 M3,5.6 L6,10"/><path vector-effect="non-scaling-stroke" transform="translate(8.40,0)" d="M4.6,10 V0 L0,7 H6"/></g>
<g transform="translate(354.400,396.900) scale(1.8388,1.6200)" fill="none" stroke="#2a9890" stroke-width="2.00" stroke-linecap="round" stroke-linejoin="round"><path vector-effect="non-scaling-stroke" transform="translate(0.00,0)" d="M4.6,10 V0 L0,7 H6"/><path vector-effect="non-scaling-stroke" transform="translate(8.40,0)" d="M0,0 H6 L2,10"/><path vector-effect="non-scaling-stroke" transform="translate(16.80,0)" d="M1.9,0 H4.1 L6,2 V8 L4.1,10 H1.9 L0,8 V2 Z M0.5,8.6 L5.5,1.4"/><path vector-effect="non-scaling-stroke" transform="translate(25.20,0)" d="M0,0 V10 M5,3.6 L0,7.4 M1.7,6.1 L5.2,10"/></g>
<g transform="translate(499.500,298.300) scale(2.2336,1.8900)" fill="none" stroke="#2a9890" stroke-width="2.00" stroke-linecap="round" stroke-linejoin="round"><path vector-effect="non-scaling-stroke" transform="translate(0.00,0)" d="M7,2 Q6,0 3.7,0 Q0,0 0,5 Q0,10 3.7,10 Q6,10 7,8"/><path vector-effect="non-scaling-stroke" transform="translate(9.40,0)" d="M1.7,1.8 L3.6,0 V10"/><path vector-effect="non-scaling-stroke" transform="translate(15.40,0)" d="M1.7,1.8 L3.6,0 V10"/><path vector-effect="non-scaling-stroke" transform="translate(21.40,0)" d="M5.6,1.2 Q5,0 3,0 Q0,0 0,4.6 V7 Q0,10 3,10 Q6,10 6,7.2 Q6,4.4 3,4.4 Q0,4.4 0,7"/></g>
<g transform="translate(498.300,327.900) scale(1.1946,1.1000)" fill="none" stroke="#2a9890" stroke-width="1.00" stroke-linecap="round" stroke-linejoin="round"><path vector-effect="non-scaling-stroke" transform="translate(0.00,0)" d="M7,2 Q6,0 3.7,0 Q0,0 0,5 Q0,10 3.7,10 Q6,10 7,8"/><path vector-effect="non-scaling-stroke" transform="translate(9.40,0)" d="M1.9,0 H4.1 L6,2 V8 L4.1,10 H1.9 L0,8 V2 Z M0.5,8.6 L5.5,1.4"/><path vector-effect="non-scaling-stroke" transform="translate(17.80,0)" d="M5.6,1.2 Q5,0 3,0 Q0,0 0,4.6 V7 Q0,10 3,10 Q6,10 6,7.2 Q6,4.4 3,4.4 Q0,4.4 0,7"/><path vector-effect="non-scaling-stroke" transform="translate(26.20,0)" d="M1.9,0 H4.1 L6,2 V8 L4.1,10 H1.9 L0,8 V2 Z M0.5,8.6 L5.5,1.4"/><path vector-effect="non-scaling-stroke" transform="translate(34.60,0)" d="M0,0 H6 L2.6,4.2 H4.4 L6,5.8 V8.4 L4.4,10 H1.4 L0,8.6"/></g>
<g transform="translate(498.800,350.600) scale(1.9500,1.5100)" fill="none" stroke="#2a9890" stroke-width="2.00" stroke-linecap="round" stroke-linejoin="round"><path vector-effect="non-scaling-stroke" transform="translate(0.00,0)" d="M1.9,0 H4.1 L6,2 V8 L4.1,10 H1.9 L0,8 V2 Z M0.5,8.6 L5.5,1.4"/><path vector-effect="non-scaling-stroke" transform="translate(8.40,0)" d="M0.8,9.4 V10"/><path vector-effect="non-scaling-stroke" transform="translate(12.40,0)" d="M1.7,1.8 L3.6,0 V10"/></g>
<g transform="translate(359.300,434.300) scale(2.3611,2.0200)" fill="none" stroke="#2a9890" stroke-width="2.00" stroke-linecap="round" stroke-linejoin="round"><path vector-effect="non-scaling-stroke" transform="translate(0.00,0)" d="M0,10 V0 H4.6 L6,1.4 V4.2 L4.6,5.6 H0 M3,5.6 L6,10"/><path vector-effect="non-scaling-stroke" transform="translate(8.40,0)" d="M5.8,0 H0.6 L0.2,4.6 Q1.4,4 3,4 Q6,4 6,7 Q6,10 3,10 Q0.8,10 0,8.6"/></g>
<g transform="translate(359.300,490.600) scale(1.7862,1.5100)" fill="none" stroke="#2a9890" stroke-width="2.00" stroke-linecap="round" stroke-linejoin="round"><path vector-effect="non-scaling-stroke" transform="translate(0.00,0)" d="M3,0 Q0.4,0 0.4,2.3 Q0.4,4.6 3,4.6 Q5.6,4.6 5.6,2.3 Q5.6,0 3,0 Z M3,4.6 Q0,4.6 0,7.3 Q0,10 3,10 Q6,10 6,7.3 Q6,4.6 3,4.6 Z"/><path vector-effect="non-scaling-stroke" transform="translate(8.40,0)" d="M0,0 V10 M5,3.6 L0,7.4 M1.7,6.1 L5.2,10"/><path vector-effect="non-scaling-stroke" transform="translate(16.00,0)" d="M0,2.2 Q0.6,0 3,0 Q6,0 6,2.6 Q6,4.4 3.8,5.8 L0,10 H6"/><path vector-effect="non-scaling-stroke" transform="translate(24.40,0)" d="M5.8,0 H0.6 L0.2,4.6 Q1.4,4 3,4 Q6,4 6,7 Q6,10 3,10 Q0.8,10 0,8.6"/></g>
<g transform="translate(359.500,527.600) scale(2.3125,2.0000)" fill="none" stroke="#2a9890" stroke-width="2.00" stroke-linecap="round" stroke-linejoin="round"><path vector-effect="non-scaling-stroke" transform="translate(0.00,0)" d="M0,10 V0 H4.6 L6,1.4 V4.2 L4.6,5.6 H0 M3,5.6 L6,10"/><path vector-effect="non-scaling-stroke" transform="translate(8.40,0)" d="M5.6,1.2 Q5,0 3,0 Q0,0 0,4.6 V7 Q0,10 3,10 Q6,10 6,7.2 Q6,4.4 3,4.4 Q0,4.4 0,7"/></g>
<g transform="translate(358.500,583.800) scale(1.8318,1.5700)" fill="none" stroke="#2a9890" stroke-width="2.00" stroke-linecap="round" stroke-linejoin="round"><path vector-effect="non-scaling-stroke" transform="translate(0.00,0)" d="M0,2.2 Q0.6,0 3,0 Q6,0 6,2.6 Q6,4.4 3.8,5.8 L0,10 H6"/><path vector-effect="non-scaling-stroke" transform="translate(8.40,0)" d="M0,2.2 Q0.6,0 3,0 Q6,0 6,2.6 Q6,4.4 3.8,5.8 L0,10 H6"/><path vector-effect="non-scaling-stroke" transform="translate(16.80,0)" d="M0,0 V10 M5,3.6 L0,7.4 M1.7,6.1 L5.2,10"/></g>
<g transform="translate(499.500,579.600) scale(2.2044,1.8400)" fill="none" stroke="#2a9890" stroke-width="2.00" stroke-linecap="round" stroke-linejoin="round"><path vector-effect="non-scaling-stroke" transform="translate(0.00,0)" d="M7,2 Q6,0 3.7,0 Q0,0 0,5 Q0,10 3.7,10 Q6,10 7,8"/><path vector-effect="non-scaling-stroke" transform="translate(9.40,0)" d="M1.7,1.8 L3.6,0 V10"/><path vector-effect="non-scaling-stroke" transform="translate(15.40,0)" d="M1.7,1.8 L3.6,0 V10"/><path vector-effect="non-scaling-stroke" transform="translate(21.40,0)" d="M0,0 H6 L2,10"/></g>
<g transform="translate(498.300,608.400) scale(1.1897,1.1000)" fill="none" stroke="#2a9890" stroke-width="1.00" stroke-linecap="round" stroke-linejoin="round"><path vector-effect="non-scaling-stroke" transform="translate(0.00,0)" d="M7,2 Q6,0 3.7,0 Q0,0 0,5 Q0,10 3.7,10 Q6,10 7,8"/><path vector-effect="non-scaling-stroke" transform="translate(9.40,0)" d="M1.9,0 H4.1 L6,2 V8 L4.1,10 H1.9 L0,8 V2 Z M0.5,8.6 L5.5,1.4"/><path vector-effect="non-scaling-stroke" transform="translate(17.80,0)" d="M5.6,1.2 Q5,0 3,0 Q0,0 0,4.6 V7 Q0,10 3,10 Q6,10 6,7.2 Q6,4.4 3,4.4 Q0,4.4 0,7"/><path vector-effect="non-scaling-stroke" transform="translate(26.20,0)" d="M1.9,0 H4.1 L6,2 V8 L4.1,10 H1.9 L0,8 V2 Z M0.5,8.6 L5.5,1.4"/><path vector-effect="non-scaling-stroke" transform="translate(34.60,0)" d="M0,0 H6 L2.6,4.2 H4.4 L6,5.8 V8.4 L4.4,10 H1.4 L0,8.6"/></g>
<g transform="translate(499.500,630.000) scale(1.7955,1.5600)" fill="none" stroke="#2a9890" stroke-width="2.00" stroke-linecap="round" stroke-linejoin="round"><path vector-effect="non-scaling-stroke" transform="translate(0.00,0)" d="M0,0 H6 L2.6,4.2 H4.4 L6,5.8 V8.4 L4.4,10 H1.4 L0,8.6"/><path vector-effect="non-scaling-stroke" transform="translate(8.40,0)" d="M0,0 H6 L2.6,4.2 H4.4 L6,5.8 V8.4 L4.4,10 H1.4 L0,8.6"/><path vector-effect="non-scaling-stroke" transform="translate(16.80,0)" d="M0,3.6 V10 M0,5.6 Q0.8,3.6 2.6,3.6 Q5.2,3.6 5.2,5.8 V10"/></g>
<g transform="translate(359.900,621.000) scale(2.2917,2.1000)" fill="none" stroke="#2a9890" stroke-width="2.00" stroke-linecap="round" stroke-linejoin="round"><path vector-effect="non-scaling-stroke" transform="translate(0.00,0)" d="M0,10 V0 H4.6 L6,1.4 V4.2 L4.6,5.6 H0 M3,5.6 L6,10"/><path vector-effect="non-scaling-stroke" transform="translate(8.40,0)" d="M3,0 Q0.4,0 0.4,2.3 Q0.4,4.6 3,4.6 Q5.6,4.6 5.6,2.3 Q5.6,0 3,0 Z M3,4.6 Q0,4.6 0,7.3 Q0,10 3,10 Q6,10 6,7.3 Q6,4.6 3,4.6 Z"/></g>
<g transform="translate(172.800,621.700) scale(2.2361,1.9800)" fill="none" stroke="#2a9890" stroke-width="2.00" stroke-linecap="round" stroke-linejoin="round"><path vector-effect="non-scaling-stroke" transform="translate(0.00,0)" d="M0,10 V0 H4.6 L6,1.4 V4.2 L4.6,5.6 H0 M3,5.6 L6,10"/><path vector-effect="non-scaling-stroke" transform="translate(8.40,0)" d="M0,0 H6 L2,10"/></g>
<g transform="translate(798.400,185.200) scale(2.2517,2.0200)" fill="none" stroke="#2a9890" stroke-width="2.00" stroke-linecap="round" stroke-linejoin="round"><path vector-effect="non-scaling-stroke" transform="translate(0.00,0)" d="M7,2 Q6,0 3.7,0 Q0,0 0,5 Q0,10 3.7,10 Q6,10 7,8"/><path vector-effect="non-scaling-stroke" transform="translate(9.40,0)" d="M1.7,1.8 L3.6,0 V10"/><path vector-effect="non-scaling-stroke" transform="translate(15.40,0)" d="M4.6,10 V0 L0,7 H6"/><path vector-effect="non-scaling-stroke" transform="translate(23.80,0)" d="M1.9,0 H4.1 L6,2 V8 L4.1,10 H1.9 L0,8 V2 Z M0.5,8.6 L5.5,1.4"/></g>
<g transform="translate(798.400,230.000) scale(1.7857,1.4000)" fill="none" stroke="#2a9890" stroke-width="2.00" stroke-linecap="round" stroke-linejoin="round"><path vector-effect="non-scaling-stroke" transform="translate(0.00,0)" d="M0,2.2 Q0.6,0 3,0 Q6,0 6,2.6 Q6,4.4 3.8,5.8 L0,10 H6"/><path vector-effect="non-scaling-stroke" transform="translate(8.40,0)" d="M0,2.2 Q0.6,0 3,0 Q6,0 6,2.6 Q6,4.4 3.8,5.8 L0,10 H6"/><path vector-effect="non-scaling-stroke" transform="translate(16.80,0)" d="M0,3.6 V12.8 M0,5.2 Q0.9,3.6 2.8,3.6 Q5.6,3.6 5.6,6.8 Q5.6,10 2.8,10 Q0.9,10 0,8.4"/></g>
<g transform="translate(797.100,257.900) scale(1.1970,1.0600)" fill="none" stroke="#2a9890" stroke-width="1.00" stroke-linecap="round" stroke-linejoin="round"><path vector-effect="non-scaling-stroke" transform="translate(0.00,0)" d="M7,2 Q6,0 3.7,0 Q0,0 0,5 Q0,10 3.7,10 Q6,10 7,8"/><path vector-effect="non-scaling-stroke" transform="translate(9.40,0)" d="M1.9,0 H4.1 L6,2 V8 L4.1,10 H1.9 L0,8 V2 Z M0.5,8.6 L5.5,1.4"/><path vector-effect="non-scaling-stroke" transform="translate(17.80,0)" d="M5.6,1.2 Q5,0 3,0 Q0,0 0,4.6 V7 Q0,10 3,10 Q6,10 6,7.2 Q6,4.4 3,4.4 Q0,4.4 0,7"/><path vector-effect="non-scaling-stroke" transform="translate(26.20,0)" d="M1.9,0 H4.1 L6,2 V8 L4.1,10 H1.9 L0,8 V2 Z M0.5,8.6 L5.5,1.4"/><path vector-effect="non-scaling-stroke" transform="translate(34.60,0)" d="M0,0 H6 L2.6,4.2 H4.4 L6,5.8 V8.4 L4.4,10 H1.4 L0,8.6"/></g>
<g transform="translate(892.000,177.000) scale(2.3465,1.9700)" fill="none" stroke="#2a9890" stroke-width="2.00" stroke-linecap="round" stroke-linejoin="round"><path vector-effect="non-scaling-stroke" transform="translate(0.00,0)" d="M0,10 V0 H4.6 L6,1.4 V4.2 L4.6,5.6 H0 M3,5.6 L6,10"/><path vector-effect="non-scaling-stroke" transform="translate(8.40,0)" d="M5.8,0 H0.6 L0.2,4.6 Q1.4,4 3,4 Q6,4 6,7 Q6,10 3,10 Q0.8,10 0,8.6"/><path vector-effect="non-scaling-stroke" transform="translate(16.80,0)" d="M5.8,0 H0.6 L0.2,4.6 Q1.4,4 3,4 Q6,4 6,7 Q6,10 3,10 Q0.8,10 0,8.6"/></g>
<g transform="translate(893.300,219.000) scale(1.5804,1.5000)" fill="none" stroke="#2a9890" stroke-width="2.00" stroke-linecap="round" stroke-linejoin="round"><path vector-effect="non-scaling-stroke" transform="translate(0.00,0)" d="M1.7,1.8 L3.6,0 V10"/><path vector-effect="non-scaling-stroke" transform="translate(6.00,0)" d="M0,0 V10 M5,3.6 L0,7.4 M1.7,6.1 L5.2,10"/></g>
<g transform="translate(352.300,188.300) scale(1.1818,1.1100)" fill="none" stroke="#2a9890" stroke-width="1.00" stroke-linecap="round" stroke-linejoin="round"><path vector-effect="non-scaling-stroke" transform="translate(0.00,0)" d="M0,10 V0 H4.6 L6,1.4 V4.2 L4.6,5.6 H0 M3,5.6 L6,10"/><path vector-effect="non-scaling-stroke" transform="translate(8.40,0)" d="M1.9,0 H4.1 L6,2 V8 L4.1,10 H1.9 L0,8 V2 Z M0.5,8.6 L5.5,1.4"/><path vector-effect="non-scaling-stroke" transform="translate(16.80,0)" d="M5.6,1.2 Q5,0 3,0 Q0,0 0,4.6 V7 Q0,10 3,10 Q6,10 6,7.2 Q6,4.4 3,4.4 Q0,4.4 0,7"/><path vector-effect="non-scaling-stroke" transform="translate(25.20,0)" d="M1.9,0 H4.1 L6,2 V8 L4.1,10 H1.9 L0,8 V2 Z M0.5,8.6 L5.5,1.4"/><path vector-effect="non-scaling-stroke" transform="translate(33.60,0)" d="M0,0 H6 L2.6,4.2 H4.4 L6,5.8 V8.4 L4.4,10 H1.4 L0,8.6"/></g>
<g transform="translate(352.300,281.300) scale(1.1818,1.1100)" fill="none" stroke="#2a9890" stroke-width="1.00" stroke-linecap="round" stroke-linejoin="round"><path vector-effect="non-scaling-stroke" transform="translate(0.00,0)" d="M0,10 V0 H4.6 L6,1.4 V4.2 L4.6,5.6 H0 M3,5.6 L6,10"/><path vector-effect="non-scaling-stroke" transform="translate(8.40,0)" d="M1.9,0 H4.1 L6,2 V8 L4.1,10 H1.9 L0,8 V2 Z M0.5,8.6 L5.5,1.4"/><path vector-effect="non-scaling-stroke" transform="translate(16.80,0)" d="M5.6,1.2 Q5,0 3,0 Q0,0 0,4.6 V7 Q0,10 3,10 Q6,10 6,7.2 Q6,4.4 3,4.4 Q0,4.4 0,7"/><path vector-effect="non-scaling-stroke" transform="translate(25.20,0)" d="M1.9,0 H4.1 L6,2 V8 L4.1,10 H1.9 L0,8 V2 Z M0.5,8.6 L5.5,1.4"/><path vector-effect="non-scaling-stroke" transform="translate(33.60,0)" d="M0,0 H6 L2.6,4.2 H4.4 L6,5.8 V8.4 L4.4,10 H1.4 L0,8.6"/></g>
<g transform="translate(352.300,375.300) scale(1.1818,1.1100)" fill="none" stroke="#2a9890" stroke-width="1.00" stroke-linecap="round" stroke-linejoin="round"><path vector-effect="non-scaling-stroke" transform="translate(0.00,0)" d="M0,10 V0 H4.6 L6,1.4 V4.2 L4.6,5.6 H0 M3,5.6 L6,10"/><path vector-effect="non-scaling-stroke" transform="translate(8.40,0)" d="M1.9,0 H4.1 L6,2 V8 L4.1,10 H1.9 L0,8 V2 Z M0.5,8.6 L5.5,1.4"/><path vector-effect="non-scaling-stroke" transform="translate(16.80,0)" d="M5.6,1.2 Q5,0 3,0 Q0,0 0,4.6 V7 Q0,10 3,10 Q6,10 6,7.2 Q6,4.4 3,4.4 Q0,4.4 0,7"/><path vector-effect="non-scaling-stroke" transform="translate(25.20,0)" d="M1.9,0 H4.1 L6,2 V8 L4.1,10 H1.9 L0,8 V2 Z M0.5,8.6 L5.5,1.4"/><path vector-effect="non-scaling-stroke" transform="translate(33.60,0)" d="M0,0 H6 L2.6,4.2 H4.4 L6,5.8 V8.4 L4.4,10 H1.4 L0,8.6"/></g>
<g transform="translate(352.300,468.300) scale(1.1818,1.1100)" fill="none" stroke="#2a9890" stroke-width="1.00" stroke-linecap="round" stroke-linejoin="round"><path vector-effect="non-scaling-stroke" transform="translate(0.00,0)" d="M0,10 V0 H4.6 L6,1.4 V4.2 L4.6,5.6 H0 M3,5.6 L6,10"/><path vector-effect="non-scaling-stroke" transform="translate(8.40,0)" d="M1.9,0 H4.1 L6,2 V8 L4.1,10 H1.9 L0,8 V2 Z M0.5,8.6 L5.5,1.4"/><path vector-effect="non-scaling-stroke" transform="translate(16.80,0)" d="M5.6,1.2 Q5,0 3,0 Q0,0 0,4.6 V7 Q0,10 3,10 Q6,10 6,7.2 Q6,4.4 3,4.4 Q0,4.4 0,7"/><path vector-effect="non-scaling-stroke" transform="translate(25.20,0)" d="M1.9,0 H4.1 L6,2 V8 L4.1,10 H1.9 L0,8 V2 Z M0.5,8.6 L5.5,1.4"/><path vector-effect="non-scaling-stroke" transform="translate(33.60,0)" d="M0,0 H6 L2.6,4.2 H4.4 L6,5.8 V8.4 L4.4,10 H1.4 L0,8.6"/></g>
<g transform="translate(352.300,561.300) scale(1.1818,1.1100)" fill="none" stroke="#2a9890" stroke-width="1.00" stroke-linecap="round" stroke-linejoin="round"><path vector-effect="non-scaling-stroke" transform="translate(0.00,0)" d="M0,10 V0 H4.6 L6,1.4 V4.2 L4.6,5.6 H0 M3,5.6 L6,10"/><path vector-effect="non-scaling-stroke" transform="translate(8.40,0)" d="M1.9,0 H4.1 L6,2 V8 L4.1,10 H1.9 L0,8 V2 Z M0.5,8.6 L5.5,1.4"/><path vector-effect="non-scaling-stroke" transform="translate(16.80,0)" d="M5.6,1.2 Q5,0 3,0 Q0,0 0,4.6 V7 Q0,10 3,10 Q6,10 6,7.2 Q6,4.4 3,4.4 Q0,4.4 0,7"/><path vector-effect="non-scaling-stroke" transform="translate(25.20,0)" d="M1.9,0 H4.1 L6,2 V8 L4.1,10 H1.9 L0,8 V2 Z M0.5,8.6 L5.5,1.4"/><path vector-effect="non-scaling-stroke" transform="translate(33.60,0)" d="M0,0 H6 L2.6,4.2 H4.4 L6,5.8 V8.4 L4.4,10 H1.4 L0,8.6"/></g>
<g transform="translate(352.300,655.300) scale(1.1818,1.1100)" fill="none" stroke="#2a9890" stroke-width="1.00" stroke-linecap="round" stroke-linejoin="round"><path vector-effect="non-scaling-stroke" transform="translate(0.00,0)" d="M0,10 V0 H4.6 L6,1.4 V4.2 L4.6,5.6 H0 M3,5.6 L6,10"/><path vector-effect="non-scaling-stroke" transform="translate(8.40,0)" d="M1.9,0 H4.1 L6,2 V8 L4.1,10 H1.9 L0,8 V2 Z M0.5,8.6 L5.5,1.4"/><path vector-effect="non-scaling-stroke" transform="translate(16.80,0)" d="M5.6,1.2 Q5,0 3,0 Q0,0 0,4.6 V7 Q0,10 3,10 Q6,10 6,7.2 Q6,4.4 3,4.4 Q0,4.4 0,7"/><path vector-effect="non-scaling-stroke" transform="translate(25.20,0)" d="M1.9,0 H4.1 L6,2 V8 L4.1,10 H1.9 L0,8 V2 Z M0.5,8.6 L5.5,1.4"/><path vector-effect="non-scaling-stroke" transform="translate(33.60,0)" d="M0,0 H6 L2.6,4.2 H4.4 L6,5.8 V8.4 L4.4,10 H1.4 L0,8.6"/></g>
<g transform="translate(165.300,655.300) scale(1.1793,1.1100)" fill="none" stroke="#2a9890" stroke-width="1.00" stroke-linecap="round" stroke-linejoin="round"><path vector-effect="non-scaling-stroke" transform="translate(0.00,0)" d="M0,10 V0 H4.6 L6,1.4 V4.2 L4.6,5.6 H0 M3,5.6 L6,10"/><path vector-effect="non-scaling-stroke" transform="translate(8.40,0)" d="M1.9,0 H4.1 L6,2 V8 L4.1,10 H1.9 L0,8 V2 Z M0.5,8.6 L5.5,1.4"/><path vector-effect="non-scaling-stroke" transform="translate(16.80,0)" d="M5.6,1.2 Q5,0 3,0 Q0,0 0,4.6 V7 Q0,10 3,10 Q6,10 6,7.2 Q6,4.4 3,4.4 Q0,4.4 0,7"/><path vector-effect="non-scaling-stroke" transform="translate(25.20,0)" d="M1.9,0 H4.1 L6,2 V8 L4.1,10 H1.9 L0,8 V2 Z M0.5,8.6 L5.5,1.4"/><path vector-effect="non-scaling-stroke" transform="translate(33.60,0)" d="M0,0 H6 L2.6,4.2 H4.4 L6,5.8 V8.4 L4.4,10 H1.4 L0,8.6"/></g>
<g transform="rotate(-90 870.1 213.5)"><g transform="translate(846.700,207.700) scale(1.1818,1.1600)" fill="none" stroke="#2a9890" stroke-width="1.00" stroke-linecap="round" stroke-linejoin="round"><path vector-effect="non-scaling-stroke" transform="translate(0.00,0)" d="M0,10 V0 H4.6 L6,1.4 V4.2 L4.6,5.6 H0 M3,5.6 L6,10"/><path vector-effect="non-scaling-stroke" transform="translate(8.40,0)" d="M1.9,0 H4.1 L6,2 V8 L4.1,10 H1.9 L0,8 V2 Z M0.5,8.6 L5.5,1.4"/><path vector-effect="non-scaling-stroke" transform="translate(16.80,0)" d="M5.6,1.2 Q5,0 3,0 Q0,0 0,4.6 V7 Q0,10 3,10 Q6,10 6,7.2 Q6,4.4 3,4.4 Q0,4.4 0,7"/><path vector-effect="non-scaling-stroke" transform="translate(25.20,0)" d="M1.9,0 H4.1 L6,2 V8 L4.1,10 H1.9 L0,8 V2 Z M0.5,8.6 L5.5,1.4"/><path vector-effect="non-scaling-stroke" transform="translate(33.60,0)" d="M0,0 H6 L2.6,4.2 H4.4 L6,5.8 V8.4 L4.4,10 H1.4 L0,8.6"/></g></g>
<g transform="translate(-3.000,228.000) scale(1.5500,1.7000)" fill="none" stroke="#2a9890" stroke-width="2.00" stroke-linecap="round" stroke-linejoin="round"><path vector-effect="non-scaling-stroke" transform="translate(0.00,0)" d="M0,0 H6 L2.6,4.2 H4.4 L6,5.8 V8.4 L4.4,10 H1.4 L0,8.6"/></g>
<g transform="translate(-3.000,298.000) scale(1.5500,1.7000)" fill="none" stroke="#2a9890" stroke-width="2.00" stroke-linecap="round" stroke-linejoin="round"><path vector-effect="non-scaling-stroke" transform="translate(0.00,0)" d="M0,0 H6 L2.6,4.2 H4.4 L6,5.8 V8.4 L4.4,10 H1.4 L0,8.6"/></g>
<g transform="translate(-3.000,373.000) scale(1.5500,1.7000)" fill="none" stroke="#2a9890" stroke-width="2.00" stroke-linecap="round" stroke-linejoin="round"><path vector-effect="non-scaling-stroke" transform="translate(0.00,0)" d="M0,0 H6 L2.6,4.2 H4.4 L6,5.8 V8.4 L4.4,10 H1.4 L0,8.6"/></g>
<g transform="translate(-3.000,485.000) scale(1.5500,1.7000)" fill="none" stroke="#2a9890" stroke-width="2.00" stroke-linecap="round" stroke-linejoin="round"><path vector-effect="non-scaling-stroke" transform="translate(0.00,0)" d="M0,0 H6 L2.6,4.2 H4.4 L6,5.8 V8.4 L4.4,10 H1.4 L0,8.6"/></g>
<g transform="translate(6.400,527.800) scale(1.5833,1.5800)" fill="none" stroke="#2a9890" stroke-width="2.00" stroke-linecap="round" stroke-linejoin="round"><path vector-effect="non-scaling-stroke" transform="translate(0.00,0)" d="M0,0 H6 L2.6,4.2 H4.4 L6,5.8 V8.4 L4.4,10 H1.4 L0,8.6"/></g>
<g transform="translate(6.400,564.200) scale(1.5833,1.5800)" fill="none" stroke="#2a9890" stroke-width="2.00" stroke-linecap="round" stroke-linejoin="round"><path vector-effect="non-scaling-stroke" transform="translate(0.00,0)" d="M0,0 H6 L2.6,4.2 H4.4 L6,5.8 V8.4 L4.4,10 H1.4 L0,8.6"/></g>
<g transform="translate(6.400,601.000) scale(1.5833,1.5800)" fill="none" stroke="#2a9890" stroke-width="2.00" stroke-linecap="round" stroke-linejoin="round"><path vector-effect="non-scaling-stroke" transform="translate(0.00,0)" d="M0,0 H6 L2.6,4.2 H4.4 L6,5.8 V8.4 L4.4,10 H1.4 L0,8.6"/></g>
<path d="M273.5,98.0 l3.5,3.5 l-3.5,3.5 l-3.5,-3.5 z" fill="#00ff00"/>
<path d="M478.5,98.0 l3.5,3.5 l-3.5,3.5 l-3.5,-3.5 z" fill="#00ff00"/>
<path d="M478.5,192.0 l3.5,3.5 l-3.5,3.5 l-3.5,-3.5 z" fill="#00ff00"/>
<path d="M273.5,285.0 l3.5,3.5 l-3.5,3.5 l-3.5,-3.5 z" fill="#00ff00"/>
<path d="M478.5,285.0 l3.5,3.5 l-3.5,3.5 l-3.5,-3.5 z" fill="#00ff00"/>
<path d="M478.5,379.0 l3.5,3.5 l-3.5,3.5 l-3.5,-3.5 z" fill="#00ff00"/>
<path d="M571.5,379.0 l3.5,3.5 l-3.5,3.5 l-3.5,-3.5 z" fill="#00ff00"/>
<path d="M273.5,565.0 l3.5,3.5 l-3.5,3.5 l-3.5,-3.5 z" fill="#00ff00"/>
<path d="M478.5,565.0 l3.5,3.5 l-3.5,3.5 l-3.5,-3.5 z" fill="#00ff00"/>
<path d="M273.5,659.0 l3.5,3.5 l-3.5,3.5 l-3.5,-3.5 z" fill="#00ff00"/>
<path d="M478.5,659.0 l3.5,3.5 l-3.5,3.5 l-3.5,-3.5 z" fill="#00ff00"/>
<path d="M571.5,659.0 l3.5,3.5 l-3.5,3.5 l-3.5,-3.5 z" fill="#00ff00"/>
<path d="M870.5,154.0 l3.5,3.5 l-3.5,3.5 l-3.5,-3.5 z" fill="#00ff00"/></g>
<rect x="1005" y="83" width="17" height="591" fill="url(#trkv)"/>
<rect x="1022" y="83" width="2" height="591" fill="#e6e6ea"/>
<rect x="1005.5" y="83.5" width="16.0" height="16.0" rx="1" fill="url(#sbg)" stroke="#b0b0b8" stroke-width="1"/>
<path d="M1009.5,94 l4,-4 4,4" fill="none" stroke="#4d4d4d" stroke-width="2"/>
<rect x="1005.5" y="291.5" width="16.0" height="16.0" rx="1" fill="url(#sbg)" stroke="#b0b0b8" stroke-width="1"/>
<path d="M1010,297.5 h7 M1010,299.5 h7 M1010,301.5 h7" stroke="#8a8a90" stroke-width="1"/>
<rect x="2" y="674" width="1003" height="17" fill="url(#trk)"/>
<rect x="2.5" y="674.5" width="16.0" height="16.0" rx="1" fill="url(#sbg)" stroke="#b0b0b8" stroke-width="1"/>
<path d="M13.5,678.5 l-4,4 4,4" fill="none" stroke="#4d4d4d" stroke-width="2"/>
<rect x="445.5" y="674.5" width="16.0" height="16.0" rx="1" fill="url(#sbg)" stroke="#b0b0b8" stroke-width="1"/>
<path d="M450.5,679 v7 M452.5,679 v7 M454.5,679 v7 M456.5,679 v7" stroke="#8a8a90" stroke-width="1"/>
<rect x="988.5" y="674.5" width="16.0" height="16.0" rx="1" fill="url(#sbg)" stroke="#b0b0b8" stroke-width="1"/>
<rect x="1005.5" y="657.5" width="16.0" height="16.0" rx="1" fill="url(#sbg)" stroke="#b0b0b8" stroke-width="1"/>
<path d="M1009.5,663 l4,4 4,-4" fill="none" stroke="#4d4d4d" stroke-width="2"/>
<path d="M994.5,678.5 l4,4 -4,4" fill="none" stroke="#4d4d4d" stroke-width="2"/>
<rect x="1005" y="674" width="19" height="17" fill="#f6f6f8"/>
<rect x="0" y="691" width="1024" height="43" fill="#ebeaee"/>
<rect x="0" y="691" width="1024" height="4" fill="#f8f8fa"/>
<rect x="0" y="695" width="1024" height="1" fill="#a8a8ac"/>
<rect x="0" y="710" width="1024" height="2" fill="#fafafa"/>
<rect x="1.0" y="713" width="69.5" height="18.5" fill="#fff"/>
<path d="M1.5,731 V713.5 H70.5" fill="none" stroke="#8c8c90" stroke-width="1.4"/>
<text x="3.5" y="726.5" font-family="Liberation Sans" font-size="11" fill="#000" textLength="39.0" lengthAdjust="spacingAndGlyphs">24125.0</text>
<rect x="72.0" y="713" width="71.0" height="18.5" fill="#fff"/>
<path d="M72.5,731 V713.5 H143.0" fill="none" stroke="#8c8c90" stroke-width="1.4"/>
<text x="75.3" y="726.5" font-family="Liberation Sans" font-size="11" fill="#000" textLength="39.0" lengthAdjust="spacingAndGlyphs">27400.0</text>
<rect x="182.3" y="713" width="83.7" height="18.5" fill="#fff"/>
<path d="M182.8,731 V713.5 H266.0" fill="none" stroke="#8c8c90" stroke-width="1.4"/>
<text x="185.3" y="726.5" font-family="Liberation Sans" font-size="11" fill="#000" textLength="21.0" lengthAdjust="spacingAndGlyphs">25.0</text>
<rect x="294.0" y="713" width="87.0" height="18.5" fill="#fff"/>
<path d="M294.5,731 V713.5 H381.0" fill="none" stroke="#8c8c90" stroke-width="1.4"/>
<text x="298.0" y="726.5" font-family="Liberation Sans" font-size="11" fill="#000" textLength="33.0" lengthAdjust="spacingAndGlyphs">Sheet1</text>
<rect x="383.0" y="713" width="22.0" height="18.5" fill="#fff"/>
<path d="M383.5,731 V713.5 H405.0" fill="none" stroke="#8c8c90" stroke-width="1.4"/>
<rect x="249.0" y="714" width="17.0" height="17" fill="#ecebef"/>
<path d="M249.0,730.5 H265.5 V714" fill="none" stroke="#a0a0a4" stroke-width="1.2"/>
<path d="M253.5,720 h8 l-4,4.5 z" fill="#000"/>
<rect x="364.0" y="714" width="17.0" height="17" fill="#ecebef"/>
<path d="M364.0,730.5 H380.5 V714" fill="none" stroke="#a0a0a4" stroke-width="1.2"/>
<path d="M368.5,720 h8 l-4,4.5 z" fill="#000"/>
<rect x="407" y="712" width="16.5" height="9.5" fill="#ecebef" stroke="#a0a0a4" stroke-width="1"/>
<rect x="407" y="722" width="16.5" height="9.5" fill="#ecebef" stroke="#a0a0a4" stroke-width="1"/>
<path d="M413,718.5 h4 l-2,-2.5 z M413,725.5 h4 l-2,2.5 z" fill="#000"/>
<path d="M513.5,733 V714.5 H1024" fill="none" stroke="#9c9ca0" stroke-width="1.2"/>
<rect x="839" y="702.5" width="183" height="30.5" rx="6" fill="url(#pill)" stroke="#c8c8cc" stroke-width="1"/>
<circle cx="853.3" cy="717.3" r="9.5" fill="none" stroke="#3a98c8" stroke-width="4.5"/>
<circle cx="853.3" cy="717.3" r="4" fill="#3a98c8"/>
<rect x="856" y="723" width="8" height="9" fill="#f0a030"/>
<text x="870" y="722.5" font-family="Liberation Sans" font-size="11.5" fill="#000" textLength="119" lengthAdjust="spacingAndGlyphs">ADACT \ Досик-Евгений</text>
<path d="M996.0,712 q2.5,5.5 0,11" fill="none" stroke="#90d060" stroke-width="1.2"/>
<path d="M999.1,712 q2.5,5.5 0,11" fill="none" stroke="#90d060" stroke-width="1.2"/>
<path d="M1002.2,712 q2.5,5.5 0,11" fill="none" stroke="#90d060" stroke-width="1.2"/>
<path d="M1005.3,712 q2.5,5.5 0,11" fill="none" stroke="#90d060" stroke-width="1.2"/>
<path d="M1008.4,712 q2.5,5.5 0,11" fill="none" stroke="#90d060" stroke-width="1.2"/>
<path d="M1011.5,712 q2.5,5.5 0,11" fill="none" stroke="#90d060" stroke-width="1.2"/>
<path d="M1014.6,712 q2.5,5.5 0,11" fill="none" stroke="#90d060" stroke-width="1.2"/>
<rect x="0" y="734" width="1024" height="4" fill="#4a78b0"/>
<rect x="0" y="734" width="1024" height="1" fill="#2a4a80"/></svg>
</body></html>
